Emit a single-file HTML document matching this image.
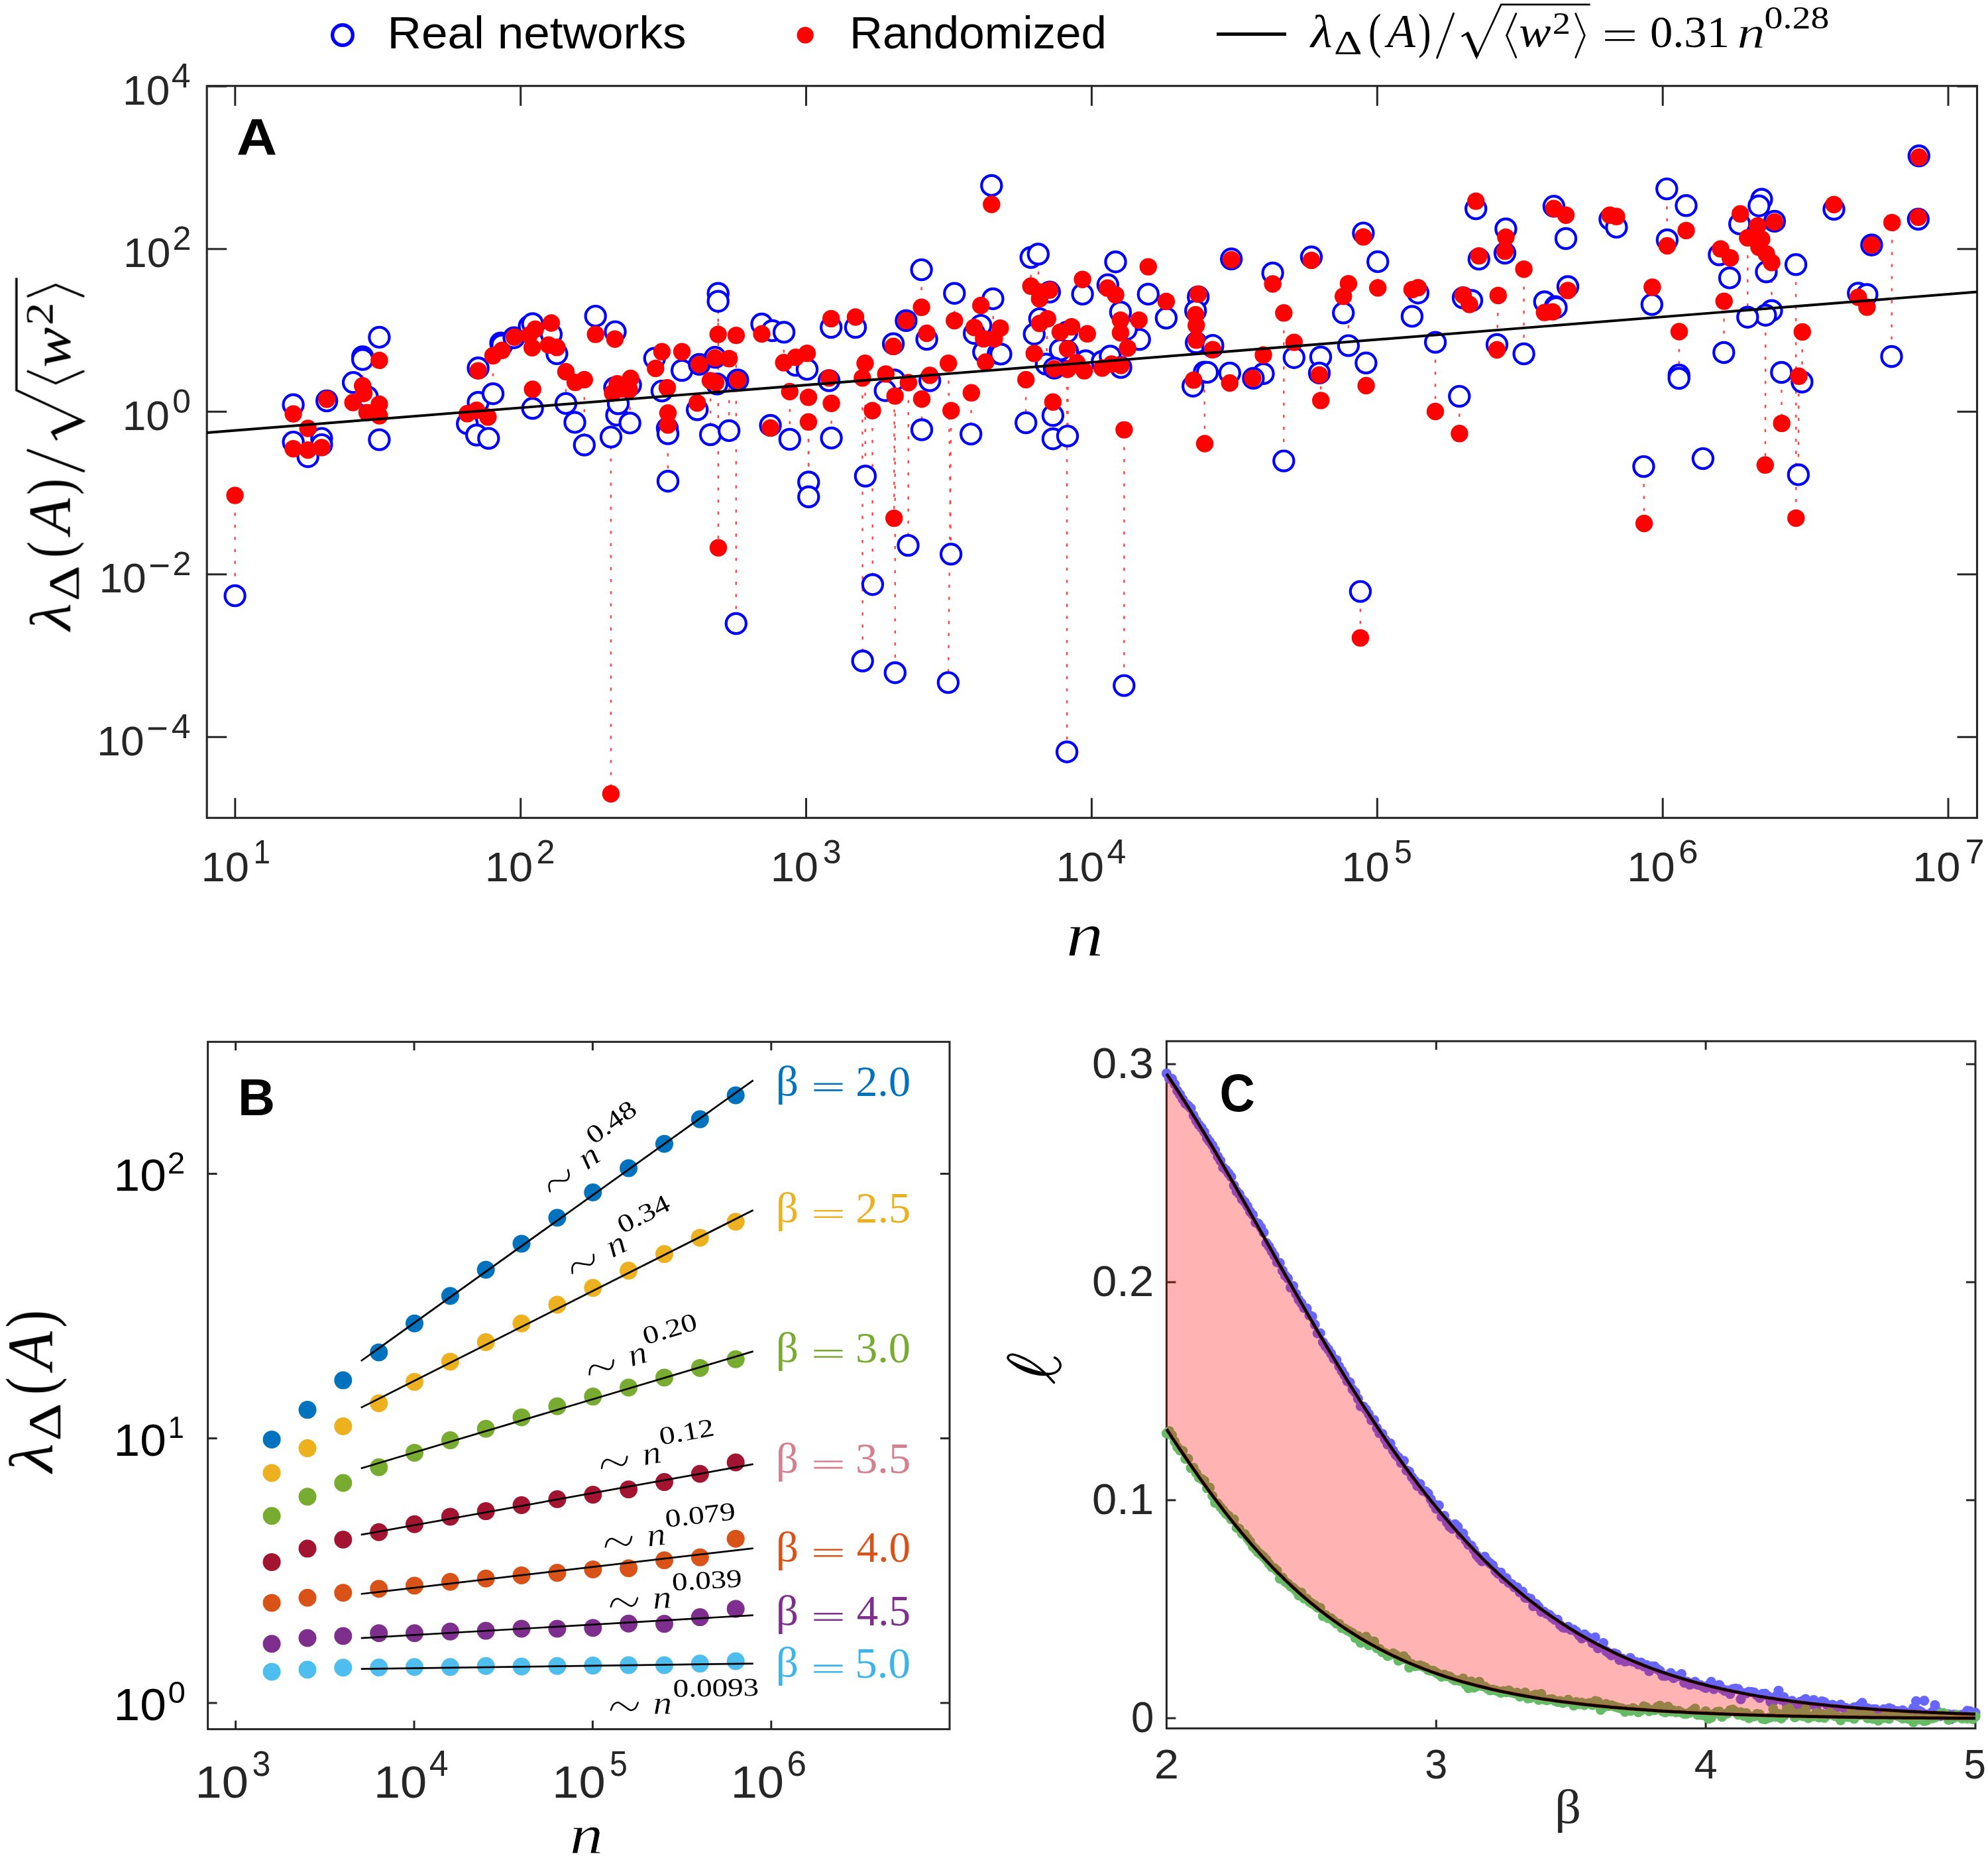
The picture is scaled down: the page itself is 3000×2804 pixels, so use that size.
<!DOCTYPE html>
<html><head><meta charset="utf-8"><title>figure</title>
<style>html,body{margin:0;padding:0;background:#fff}svg{display:block}text{white-space:pre}</style></head>
<body><svg width="3000" height="2804" viewBox="0 0 3000 2804">
<rect width="3000" height="2804" fill="#fff"/>
<g opacity="0.99999">
<g id="panelA">
<g stroke="#ff0000" stroke-width="2.5" stroke-dasharray="4.6 13.6" fill="none" opacity="0.72">
<path d="M354.6 755.6L354.6 899.0"/>
<path d="M743.9 545.0L744.0 594.5"/>
<path d="M547.2 548.0L547.2 582.0"/>
<path d="M572.4 517.0L572.4 544.0"/>
<path d="M572.4 635.0L572.4 664.0"/>
<path d="M464.7 654.5L464.7 689.2"/>
<path d="M854.0 569.0L854.0 608.9"/>
<path d="M881.8 581.0L881.8 671.6"/>
<path d="M867.8 585.1L867.5 637.4"/>
<path d="M921.9 601.0L921.9 1198.0"/>
<path d="M950.6 596.0L950.6 638.4"/>
<path d="M998.9 538.8L998.9 590.1"/>
<path d="M1007.5 593.1L1008.0 726.2"/>
<path d="M1072.2 583.0L1072.2 655.0"/>
<path d="M803.7 595.5L803.7 616.3"/>
<path d="M1083.7 450.7L1083.7 504.6"/>
<path d="M1083.7 462.7L1084.0 826.7"/>
<path d="M1110.9 514.1L1110.8 941.0"/>
<path d="M1100.2 549.3L1100.2 649.9"/>
<path d="M1183.0 509.4L1182.8 547.3"/>
<path d="M1191.8 599.0L1191.8 663.0"/>
<path d="M1220.0 607.6L1220.3 727.5"/>
<path d="M1220.0 644.8L1220.3 749.8"/>
<path d="M1254.6 616.7L1254.6 661.0"/>
<path d="M1301.4 578.4L1301.7 997.5"/>
<path d="M1305.5 556.3L1305.9 718.5"/>
<path d="M1316.5 627.7L1316.9 882.2"/>
<path d="M1349.7 581.5L1349.2 782.1"/>
<path d="M1350.7 605.6L1350.8 1015.2"/>
<path d="M1370.9 585.5L1370.5 823.1"/>
<path d="M1390.6 415.1L1390.6 463.8"/>
<path d="M1391.0 610.2L1391.0 648.5"/>
<path d="M1431.2 556.3L1435.1 836.3"/>
<path d="M1435.3 627.7L1430.9 1030.1"/>
<path d="M1440.3 450.7L1440.3 483.9"/>
<path d="M1465.8 600.8L1465.2 655.1"/>
<path d="M1548.2 581.0L1548.2 638.0"/>
<path d="M1588.9 614.8L1588.9 662.2"/>
<path d="M1611.5 565.5L1611.5 658.1"/>
<path d="M1610.1 565.5L1610.1 1134.7"/>
<path d="M1555.7 396.5L1555.7 431.8"/>
<path d="M1566.8 391.5L1567.5 440.8"/>
<path d="M1498.4 458.9L1499.5 511.3"/>
<path d="M1683.5 403.2L1683.5 444.9"/>
<path d="M1732.8 410.6L1732.8 443.9"/>
<path d="M1696.4 656.6L1696.3 1034.6"/>
<path d="M1817.5 569.6L1818.0 669.5"/>
<path d="M1640.8 511.8L1639.0 544.5"/>
<path d="M1580.5 489.1L1579.0 549.5"/>
<path d="M1937.3 480.3L1937.3 695.6"/>
<path d="M2166.1 524.6L2166.0 621.0"/>
<path d="M2079.2 402.9L2079.2 434.5"/>
<path d="M2034.9 436.1L2034.9 521.6"/>
<path d="M2061.4 555.8L2061.6 582.0"/>
<path d="M1993.0 546.7L1993.2 604.4"/>
<path d="M2202.3 606.1L2202.4 654.3"/>
<path d="M2052.9 900.6L2052.9 962.7"/>
<path d="M2260.8 453.9L2259.0 519.9"/>
<path d="M2299.6 414.2L2299.6 534.0"/>
<path d="M2363.0 332.7L2363.0 360.0"/>
<path d="M2515.3 293.1L2515.9 371.0"/>
<path d="M2544.5 318.3L2544.5 347.9"/>
<path d="M2534.0 508.5L2533.7 568.0"/>
<path d="M2601.7 462.6L2601.3 532.0"/>
<path d="M2637.3 367.0L2637.3 478.7"/>
<path d="M2673.5 404.2L2673.5 468.7"/>
<path d="M2664.4 483.7L2663.8 701.8"/>
<path d="M2710.1 407.3L2710.3 781.9"/>
<path d="M2719.8 508.9L2719.4 576.5"/>
<path d="M2714.5 575.8L2713.9 716.4"/>
<path d="M2855.2 343.9L2854.5 538.0"/>
<path d="M2688.3 570.0L2688.7 638.9"/>
<path d="M2480.4 712.1L2481.1 790.0"/>
<path d="M1480.2 469.0L1480.2 491.1"/>
<path d="M1633.6 429.7L1633.6 443.9"/>
<path d="M1759.9 462.9L1759.9 480.1"/>
<path d="M1920.6 420.0L1920.6 428.5"/>
<path d="M1149.5 497.0L1149.5 504.0"/>
<path d="M898.7 485.1L898.7 504.6"/>
<path d="M1029.1 538.8L1029.1 559.0"/>
<path d="M533.0 585.3L532.6 607.5"/>
</g>
<rect x="312.2" y="129.7" width="2671.3" height="1104.6" fill="none" stroke="#262626" stroke-width="3.1"/>
<line x1="354.8" y1="1234.3" x2="354.8" y2="1204.3" stroke="#262626" stroke-width="3.0"/>
<line x1="354.8" y1="129.7" x2="354.8" y2="159.7" stroke="#262626" stroke-width="3.0"/>
<text transform="matrix(0.6509 0 0 0.6215 303.54 1329.99)" font-family='"Liberation Sans", sans-serif' font-size="100" fill="#262626">10</text>
<text transform="matrix(0.4587 0 0 0.5087 382.55 1303.30)" font-family='"Liberation Sans", sans-serif' font-size="100" fill="#262626">1</text>
<line x1="785.7" y1="1234.3" x2="785.7" y2="1204.3" stroke="#262626" stroke-width="3.0"/>
<line x1="785.7" y1="129.7" x2="785.7" y2="159.7" stroke="#262626" stroke-width="3.0"/>
<text transform="matrix(0.6509 0 0 0.6215 731.81 1329.99)" font-family='"Liberation Sans", sans-serif' font-size="100" fill="#262626">10</text>
<text transform="matrix(0.5035 0 0 0.5013 809.59 1303.30)" font-family='"Liberation Sans", sans-serif' font-size="100" fill="#262626">2</text>
<line x1="1216.5" y1="1234.3" x2="1216.5" y2="1204.3" stroke="#262626" stroke-width="3.0"/>
<line x1="1216.5" y1="129.7" x2="1216.5" y2="159.7" stroke="#262626" stroke-width="3.0"/>
<text transform="matrix(0.6509 0 0 0.6215 1162.68 1329.99)" font-family='"Liberation Sans", sans-serif' font-size="100" fill="#262626">10</text>
<text transform="matrix(0.5005 0 0 0.5000 1241.63 1303.21)" font-family='"Liberation Sans", sans-serif' font-size="100" fill="#262626">3</text>
<line x1="1647.4" y1="1234.3" x2="1647.4" y2="1204.3" stroke="#262626" stroke-width="3.0"/>
<line x1="1647.4" y1="129.7" x2="1647.4" y2="159.7" stroke="#262626" stroke-width="3.0"/>
<text transform="matrix(0.6509 0 0 0.6215 1593.55 1329.99)" font-family='"Liberation Sans", sans-serif' font-size="100" fill="#262626">10</text>
<text transform="matrix(0.5180 0 0 0.5087 1670.49 1303.30)" font-family='"Liberation Sans", sans-serif' font-size="100" fill="#262626">4</text>
<line x1="2078.3" y1="1234.3" x2="2078.3" y2="1204.3" stroke="#262626" stroke-width="3.0"/>
<line x1="2078.3" y1="129.7" x2="2078.3" y2="159.7" stroke="#262626" stroke-width="3.0"/>
<text transform="matrix(0.6509 0 0 0.6215 2024.42 1329.99)" font-family='"Liberation Sans", sans-serif' font-size="100" fill="#262626">10</text>
<text transform="matrix(0.4838 0 0 0.5016 2103.89 1302.81)" font-family='"Liberation Sans", sans-serif' font-size="100" fill="#262626">5</text>
<line x1="2509.2" y1="1234.3" x2="2509.2" y2="1204.3" stroke="#262626" stroke-width="3.0"/>
<line x1="2509.2" y1="129.7" x2="2509.2" y2="159.7" stroke="#262626" stroke-width="3.0"/>
<text transform="matrix(0.6509 0 0 0.6215 2455.29 1329.99)" font-family='"Liberation Sans", sans-serif' font-size="100" fill="#262626">10</text>
<text transform="matrix(0.5314 0 0 0.5000 2532.90 1303.21)" font-family='"Liberation Sans", sans-serif' font-size="100" fill="#262626">6</text>
<line x1="2940.0" y1="1234.3" x2="2940.0" y2="1204.3" stroke="#262626" stroke-width="3.0"/>
<line x1="2940.0" y1="129.7" x2="2940.0" y2="159.7" stroke="#262626" stroke-width="3.0"/>
<text transform="matrix(0.6509 0 0 0.6215 2886.16 1329.99)" font-family='"Liberation Sans", sans-serif' font-size="100" fill="#262626">10</text>
<text transform="matrix(0.5220 0 0 0.5087 2965.44 1303.30)" font-family='"Liberation Sans", sans-serif' font-size="100" fill="#262626">7</text>
<line x1="312.2" y1="130.3" x2="342.2" y2="130.3" stroke="#262626" stroke-width="3.0"/>
<line x1="2983.5" y1="130.3" x2="2953.5" y2="130.3" stroke="#262626" stroke-width="3.0"/>
<text transform="matrix(0.6409 0 0 0.6215 185.05 157.69)" font-family='"Liberation Sans", sans-serif' font-size="100" fill="#262626">10</text>
<text transform="matrix(0.5180 0 0 0.5087 258.71 131.90)" font-family='"Liberation Sans", sans-serif' font-size="100" fill="#262626">4</text>
<line x1="312.2" y1="375.8" x2="342.2" y2="375.8" stroke="#262626" stroke-width="3.0"/>
<line x1="2983.5" y1="375.8" x2="2953.5" y2="375.8" stroke="#262626" stroke-width="3.0"/>
<text transform="matrix(0.6409 0 0 0.6215 186.03 403.19)" font-family='"Liberation Sans", sans-serif' font-size="100" fill="#262626">10</text>
<text transform="matrix(0.5035 0 0 0.5013 260.53 377.40)" font-family='"Liberation Sans", sans-serif' font-size="100" fill="#262626">2</text>
<line x1="312.2" y1="621.3" x2="342.2" y2="621.3" stroke="#262626" stroke-width="3.0"/>
<line x1="2983.5" y1="621.3" x2="2953.5" y2="621.3" stroke="#262626" stroke-width="3.0"/>
<text transform="matrix(0.6409 0 0 0.6215 184.69 648.69)" font-family='"Liberation Sans", sans-serif' font-size="100" fill="#262626">10</text>
<text transform="matrix(0.4964 0 0 0.5000 260.33 622.81)" font-family='"Liberation Sans", sans-serif' font-size="100" fill="#262626">0</text>
<line x1="312.2" y1="866.8" x2="342.2" y2="866.8" stroke="#262626" stroke-width="3.0"/>
<line x1="2983.5" y1="866.8" x2="2953.5" y2="866.8" stroke="#262626" stroke-width="3.0"/>
<text transform="matrix(0.6409 0 0 0.6215 149.43 894.19)" font-family='"Liberation Sans", sans-serif' font-size="100" fill="#262626">10</text>
<rect x="227.0" y="851.9" width="27.3" height="4.0" fill="#262626"/>
<text transform="matrix(0.5035 0 0 0.5013 260.53 868.40)" font-family='"Liberation Sans", sans-serif' font-size="100" fill="#262626">2</text>
<line x1="312.2" y1="1112.3" x2="342.2" y2="1112.3" stroke="#262626" stroke-width="3.0"/>
<line x1="2983.5" y1="1112.3" x2="2953.5" y2="1112.3" stroke="#262626" stroke-width="3.0"/>
<text transform="matrix(0.6409 0 0 0.6215 146.27 1139.69)" font-family='"Liberation Sans", sans-serif' font-size="100" fill="#262626">10</text>
<rect x="223.8" y="1097.5" width="27.3" height="4.0" fill="#262626"/>
<text transform="matrix(0.5180 0 0 0.5087 258.71 1113.90)" font-family='"Liberation Sans", sans-serif' font-size="100" fill="#262626">4</text>
<g fill="#ffffff" stroke="#0000ff" stroke-width="4.2">
<circle cx="354.6" cy="899.0" r="15.1"/>
<circle cx="442.6" cy="610.8" r="15.1"/>
<circle cx="442.6" cy="667.1" r="15.1"/>
<circle cx="464.7" cy="689.2" r="15.1"/>
<circle cx="485.4" cy="661.6" r="15.1"/>
<circle cx="485.4" cy="671.1" r="15.1"/>
<circle cx="493.2" cy="605.0" r="15.1"/>
<circle cx="533.1" cy="577.3" r="15.1"/>
<circle cx="547.2" cy="538.5" r="15.1"/>
<circle cx="547.2" cy="542.5" r="15.1"/>
<circle cx="554.5" cy="599.0" r="15.1"/>
<circle cx="572.4" cy="508.9" r="15.1"/>
<circle cx="572.4" cy="663.6" r="15.1"/>
<circle cx="721.6" cy="555.3" r="15.1"/>
<circle cx="705.2" cy="639.4" r="15.1"/>
<circle cx="721.6" cy="607.2" r="15.1"/>
<circle cx="719.2" cy="656.5" r="15.1"/>
<circle cx="737.3" cy="661.6" r="15.1"/>
<circle cx="744.0" cy="594.2" r="15.1"/>
<circle cx="755.5" cy="517.7" r="15.1"/>
<circle cx="757.5" cy="520.7" r="15.1"/>
<circle cx="775.6" cy="509.7" r="15.1"/>
<circle cx="798.7" cy="492.5" r="15.1"/>
<circle cx="803.7" cy="488.5" r="15.1"/>
<circle cx="831.9" cy="504.6" r="15.1"/>
<circle cx="840.4" cy="533.8" r="15.1"/>
<circle cx="803.7" cy="616.3" r="15.1"/>
<circle cx="854.0" cy="608.9" r="15.1"/>
<circle cx="867.5" cy="637.4" r="15.1"/>
<circle cx="881.8" cy="671.6" r="15.1"/>
<circle cx="898.7" cy="477.1" r="15.1"/>
<circle cx="928.5" cy="500.6" r="15.1"/>
<circle cx="922.0" cy="659.6" r="15.1"/>
<circle cx="930.5" cy="626.4" r="15.1"/>
<circle cx="950.6" cy="638.4" r="15.1"/>
<circle cx="927.5" cy="585.1" r="15.1"/>
<circle cx="951.6" cy="581.1" r="15.1"/>
<circle cx="933.0" cy="609.3" r="15.1"/>
<circle cx="987.8" cy="540.8" r="15.1"/>
<circle cx="998.9" cy="590.1" r="15.1"/>
<circle cx="1007.0" cy="646.5" r="15.1"/>
<circle cx="1008.0" cy="654.5" r="15.1"/>
<circle cx="1008.0" cy="726.2" r="15.1"/>
<circle cx="1029.1" cy="559.0" r="15.1"/>
<circle cx="1052.2" cy="618.3" r="15.1"/>
<circle cx="1055.3" cy="549.9" r="15.1"/>
<circle cx="1083.7" cy="442.7" r="15.1"/>
<circle cx="1083.7" cy="454.7" r="15.1"/>
<circle cx="1149.5" cy="489.0" r="15.1"/>
<circle cx="1165.6" cy="499.0" r="15.1"/>
<circle cx="1183.1" cy="501.4" r="15.1"/>
<circle cx="1079.1" cy="539.3" r="15.1"/>
<circle cx="1082.0" cy="579.5" r="15.1"/>
<circle cx="1113.3" cy="573.5" r="15.1"/>
<circle cx="1200.8" cy="551.3" r="15.1"/>
<circle cx="1218.0" cy="557.4" r="15.1"/>
<circle cx="1254.2" cy="494.0" r="15.1"/>
<circle cx="1291.0" cy="494.0" r="15.1"/>
<circle cx="1251.1" cy="574.5" r="15.1"/>
<circle cx="1348.1" cy="518.7" r="15.1"/>
<circle cx="1367.4" cy="483.9" r="15.1"/>
<circle cx="1390.6" cy="407.1" r="15.1"/>
<circle cx="1398.6" cy="512.1" r="15.1"/>
<circle cx="1440.3" cy="442.7" r="15.1"/>
<circle cx="1349.7" cy="573.5" r="15.1"/>
<circle cx="1335.7" cy="589.6" r="15.1"/>
<circle cx="1403.1" cy="574.5" r="15.1"/>
<circle cx="1072.1" cy="656.0" r="15.1"/>
<circle cx="1100.2" cy="649.9" r="15.1"/>
<circle cx="1162.6" cy="641.9" r="15.1"/>
<circle cx="1191.8" cy="663.0" r="15.1"/>
<circle cx="1254.6" cy="661.0" r="15.1"/>
<circle cx="1391.0" cy="648.5" r="15.1"/>
<circle cx="1498.4" cy="450.9" r="15.1"/>
<circle cx="1480.2" cy="491.1" r="15.1"/>
<circle cx="1470.2" cy="503.2" r="15.1"/>
<circle cx="1484.3" cy="531.4" r="15.1"/>
<circle cx="1506.4" cy="533.4" r="15.1"/>
<circle cx="1510.4" cy="534.4" r="15.1"/>
<circle cx="1555.7" cy="388.5" r="15.1"/>
<circle cx="1566.8" cy="383.5" r="15.1"/>
<circle cx="1583.9" cy="440.8" r="15.1"/>
<circle cx="1568.8" cy="481.1" r="15.1"/>
<circle cx="1560.7" cy="504.2" r="15.1"/>
<circle cx="1633.6" cy="443.9" r="15.1"/>
<circle cx="1683.5" cy="395.2" r="15.1"/>
<circle cx="1671.8" cy="429.8" r="15.1"/>
<circle cx="1690.9" cy="471.0" r="15.1"/>
<circle cx="1732.8" cy="443.9" r="15.1"/>
<circle cx="1759.9" cy="480.1" r="15.1"/>
<circle cx="1808.2" cy="447.9" r="15.1"/>
<circle cx="1804.2" cy="469.0" r="15.1"/>
<circle cx="1805.2" cy="517.3" r="15.1"/>
<circle cx="1817.3" cy="561.6" r="15.1"/>
<circle cx="1800.2" cy="582.7" r="15.1"/>
<circle cx="1719.7" cy="512.3" r="15.1"/>
<circle cx="1699.6" cy="497.2" r="15.1"/>
<circle cx="1610.0" cy="501.2" r="15.1"/>
<circle cx="1611.0" cy="530.4" r="15.1"/>
<circle cx="1600.0" cy="528.0" r="15.1"/>
<circle cx="1578.8" cy="549.5" r="15.1"/>
<circle cx="1590.9" cy="555.5" r="15.1"/>
<circle cx="1638.2" cy="544.5" r="15.1"/>
<circle cx="1663.3" cy="545.5" r="15.1"/>
<circle cx="1675.4" cy="537.4" r="15.1"/>
<circle cx="1691.5" cy="554.5" r="15.1"/>
<circle cx="1465.2" cy="655.1" r="15.1"/>
<circle cx="1548.2" cy="638.0" r="15.1"/>
<circle cx="1588.9" cy="627.0" r="15.1"/>
<circle cx="1588.9" cy="662.2" r="15.1"/>
<circle cx="1611.0" cy="658.1" r="15.1"/>
<circle cx="1496.3" cy="279.9" r="15.1"/>
<circle cx="1858.2" cy="390.8" r="15.1"/>
<circle cx="1920.6" cy="412.0" r="15.1"/>
<circle cx="1979.0" cy="387.8" r="15.1"/>
<circle cx="2057.4" cy="351.6" r="15.1"/>
<circle cx="2079.2" cy="394.9" r="15.1"/>
<circle cx="2139.9" cy="442.2" r="15.1"/>
<circle cx="2027.2" cy="472.3" r="15.1"/>
<circle cx="2130.9" cy="477.4" r="15.1"/>
<circle cx="1830.0" cy="523.6" r="15.1"/>
<circle cx="1830.3" cy="521.3" r="15.1"/>
<circle cx="1952.8" cy="539.7" r="15.1"/>
<circle cx="1993.0" cy="538.7" r="15.1"/>
<circle cx="1991.0" cy="562.9" r="15.1"/>
<circle cx="2034.9" cy="521.6" r="15.1"/>
<circle cx="2061.4" cy="547.8" r="15.1"/>
<circle cx="2166.1" cy="516.6" r="15.1"/>
<circle cx="1822.0" cy="561.9" r="15.1"/>
<circle cx="1855.8" cy="562.9" r="15.1"/>
<circle cx="1906.5" cy="563.9" r="15.1"/>
<circle cx="1891.4" cy="570.9" r="15.1"/>
<circle cx="2202.3" cy="598.1" r="15.1"/>
<circle cx="2208.0" cy="449.5" r="15.1"/>
<circle cx="2221.0" cy="453.5" r="15.1"/>
<circle cx="2227.2" cy="315.1" r="15.1"/>
<circle cx="2272.4" cy="345.5" r="15.1"/>
<circle cx="2231.8" cy="391.1" r="15.1"/>
<circle cx="2271.0" cy="382.1" r="15.1"/>
<circle cx="2344.9" cy="311.3" r="15.1"/>
<circle cx="2363.0" cy="360.0" r="15.1"/>
<circle cx="2429.4" cy="330.8" r="15.1"/>
<circle cx="2439.4" cy="342.9" r="15.1"/>
<circle cx="2515.3" cy="285.1" r="15.1"/>
<circle cx="2544.5" cy="310.3" r="15.1"/>
<circle cx="2515.9" cy="362.0" r="15.1"/>
<circle cx="2366.0" cy="432.4" r="15.1"/>
<circle cx="2330.8" cy="455.5" r="15.1"/>
<circle cx="2346.9" cy="462.6" r="15.1"/>
<circle cx="2492.8" cy="459.6" r="15.1"/>
<circle cx="2259.0" cy="519.9" r="15.1"/>
<circle cx="2299.6" cy="534.0" r="15.1"/>
<circle cx="2533.7" cy="566.0" r="15.1"/>
<circle cx="2533.7" cy="571.0" r="15.1"/>
<circle cx="2594.4" cy="384.5" r="15.1"/>
<circle cx="2658.4" cy="300.7" r="15.1"/>
<circle cx="2654.4" cy="310.7" r="15.1"/>
<circle cx="2625.2" cy="337.9" r="15.1"/>
<circle cx="2677.9" cy="333.9" r="15.1"/>
<circle cx="2767.5" cy="315.8" r="15.1"/>
<circle cx="2895.8" cy="235.3" r="15.1"/>
<circle cx="2894.8" cy="330.8" r="15.1"/>
<circle cx="2824.4" cy="369.7" r="15.1"/>
<circle cx="2710.1" cy="399.3" r="15.1"/>
<circle cx="2665.5" cy="410.3" r="15.1"/>
<circle cx="2610.1" cy="419.4" r="15.1"/>
<circle cx="2804.3" cy="442.5" r="15.1"/>
<circle cx="2817.4" cy="444.5" r="15.1"/>
<circle cx="2673.5" cy="468.7" r="15.1"/>
<circle cx="2664.4" cy="475.7" r="15.1"/>
<circle cx="2637.3" cy="478.7" r="15.1"/>
<circle cx="2601.3" cy="532.0" r="15.1"/>
<circle cx="2854.5" cy="538.0" r="15.1"/>
<circle cx="2688.3" cy="562.0" r="15.1"/>
<circle cx="2719.4" cy="576.5" r="15.1"/>
<circle cx="1110.8" cy="941.0" r="15.1"/>
<circle cx="1220.3" cy="727.5" r="15.1"/>
<circle cx="1220.3" cy="749.8" r="15.1"/>
<circle cx="1305.9" cy="718.5" r="15.1"/>
<circle cx="1316.9" cy="882.2" r="15.1"/>
<circle cx="1301.7" cy="997.5" r="15.1"/>
<circle cx="1350.8" cy="1015.2" r="15.1"/>
<circle cx="1370.5" cy="823.1" r="15.1"/>
<circle cx="1435.1" cy="836.3" r="15.1"/>
<circle cx="1430.9" cy="1030.1" r="15.1"/>
<circle cx="1610.1" cy="1134.7" r="15.1"/>
<circle cx="1696.3" cy="1034.6" r="15.1"/>
<circle cx="1937.3" cy="695.6" r="15.1"/>
<circle cx="2052.9" cy="892.6" r="15.1"/>
<circle cx="2480.4" cy="704.1" r="15.1"/>
<circle cx="2569.9" cy="692.1" r="15.1"/>
<circle cx="2713.9" cy="716.4" r="15.1"/>
<circle cx="2348.5" cy="464.2" r="15.1"/>
</g>
<g fill="#ff0000">
<circle cx="354.6" cy="747.6" r="13.2"/>
<circle cx="442.6" cy="624.6" r="13.2"/>
<circle cx="442.6" cy="677.2" r="13.2"/>
<circle cx="464.7" cy="646.5" r="13.2"/>
<circle cx="464.7" cy="679.2" r="13.2"/>
<circle cx="485.4" cy="675.4" r="13.2"/>
<circle cx="493.2" cy="602.5" r="13.2"/>
<circle cx="532.6" cy="607.5" r="13.2"/>
<circle cx="547.2" cy="582.3" r="13.2"/>
<circle cx="549.0" cy="593.7" r="13.2"/>
<circle cx="554.0" cy="622.6" r="13.2"/>
<circle cx="572.4" cy="543.9" r="13.2"/>
<circle cx="572.4" cy="610.0" r="13.2"/>
<circle cx="572.4" cy="627.6" r="13.2"/>
<circle cx="721.6" cy="559.6" r="13.2"/>
<circle cx="705.2" cy="624.3" r="13.2"/>
<circle cx="719.2" cy="619.3" r="13.2"/>
<circle cx="736.3" cy="629.4" r="13.2"/>
<circle cx="744.0" cy="536.8" r="13.2"/>
<circle cx="757.5" cy="528.8" r="13.2"/>
<circle cx="776.2" cy="508.7" r="13.2"/>
<circle cx="798.7" cy="505.6" r="13.2"/>
<circle cx="807.8" cy="496.6" r="13.2"/>
<circle cx="803.1" cy="524.7" r="13.2"/>
<circle cx="831.9" cy="487.5" r="13.2"/>
<circle cx="827.9" cy="520.7" r="13.2"/>
<circle cx="840.4" cy="524.3" r="13.2"/>
<circle cx="803.7" cy="587.5" r="13.2"/>
<circle cx="854.0" cy="561.0" r="13.2"/>
<circle cx="868.1" cy="577.1" r="13.2"/>
<circle cx="881.8" cy="573.0" r="13.2"/>
<circle cx="898.7" cy="504.6" r="13.2"/>
<circle cx="927.9" cy="511.7" r="13.2"/>
<circle cx="931.5" cy="579.1" r="13.2"/>
<circle cx="924.5" cy="593.2" r="13.2"/>
<circle cx="951.6" cy="571.0" r="13.2"/>
<circle cx="949.6" cy="588.1" r="13.2"/>
<circle cx="939.6" cy="587.1" r="13.2"/>
<circle cx="998.9" cy="530.8" r="13.2"/>
<circle cx="989.3" cy="555.9" r="13.2"/>
<circle cx="1007.0" cy="585.1" r="13.2"/>
<circle cx="1008.0" cy="623.3" r="13.2"/>
<circle cx="1008.0" cy="641.4" r="13.2"/>
<circle cx="1029.1" cy="530.8" r="13.2"/>
<circle cx="1052.2" cy="608.2" r="13.2"/>
<circle cx="1055.3" cy="549.9" r="13.2"/>
<circle cx="1083.7" cy="504.6" r="13.2"/>
<circle cx="1110.9" cy="506.1" r="13.2"/>
<circle cx="1079.1" cy="540.3" r="13.2"/>
<circle cx="1100.2" cy="541.3" r="13.2"/>
<circle cx="1149.5" cy="504.0" r="13.2"/>
<circle cx="1072.0" cy="574.5" r="13.2"/>
<circle cx="1080.0" cy="577.5" r="13.2"/>
<circle cx="1113.3" cy="573.5" r="13.2"/>
<circle cx="1182.7" cy="547.3" r="13.2"/>
<circle cx="1200.8" cy="539.3" r="13.2"/>
<circle cx="1218.0" cy="533.2" r="13.2"/>
<circle cx="1191.8" cy="591.0" r="13.2"/>
<circle cx="1220.0" cy="599.6" r="13.2"/>
<circle cx="1220.0" cy="636.8" r="13.2"/>
<circle cx="1162.6" cy="645.9" r="13.2"/>
<circle cx="1254.2" cy="480.9" r="13.2"/>
<circle cx="1291.0" cy="478.5" r="13.2"/>
<circle cx="1251.1" cy="570.4" r="13.2"/>
<circle cx="1254.6" cy="608.7" r="13.2"/>
<circle cx="1305.5" cy="548.3" r="13.2"/>
<circle cx="1301.4" cy="570.4" r="13.2"/>
<circle cx="1316.5" cy="619.7" r="13.2"/>
<circle cx="1336.7" cy="564.4" r="13.2"/>
<circle cx="1348.1" cy="522.8" r="13.2"/>
<circle cx="1350.7" cy="597.6" r="13.2"/>
<circle cx="1367.4" cy="483.9" r="13.2"/>
<circle cx="1370.9" cy="577.5" r="13.2"/>
<circle cx="1390.6" cy="463.8" r="13.2"/>
<circle cx="1398.6" cy="503.0" r="13.2"/>
<circle cx="1391.0" cy="602.2" r="13.2"/>
<circle cx="1403.1" cy="566.4" r="13.2"/>
<circle cx="1431.2" cy="548.3" r="13.2"/>
<circle cx="1440.3" cy="483.9" r="13.2"/>
<circle cx="1435.3" cy="619.7" r="13.2"/>
<circle cx="1496.3" cy="308.5" r="13.2"/>
<circle cx="1480.2" cy="461.0" r="13.2"/>
<circle cx="1470.2" cy="494.2" r="13.2"/>
<circle cx="1484.3" cy="511.3" r="13.2"/>
<circle cx="1500.4" cy="511.3" r="13.2"/>
<circle cx="1509.4" cy="495.2" r="13.2"/>
<circle cx="1487.3" cy="546.5" r="13.2"/>
<circle cx="1465.8" cy="592.8" r="13.2"/>
<circle cx="1555.7" cy="431.8" r="13.2"/>
<circle cx="1568.8" cy="440.8" r="13.2"/>
<circle cx="1583.9" cy="437.8" r="13.2"/>
<circle cx="1568.8" cy="450.9" r="13.2"/>
<circle cx="1568.8" cy="488.1" r="13.2"/>
<circle cx="1580.8" cy="481.1" r="13.2"/>
<circle cx="1560.7" cy="533.4" r="13.2"/>
<circle cx="1548.2" cy="573.0" r="13.2"/>
<circle cx="1588.9" cy="606.8" r="13.2"/>
<circle cx="1600.0" cy="501.2" r="13.2"/>
<circle cx="1617.1" cy="493.2" r="13.2"/>
<circle cx="1611.0" cy="526.4" r="13.2"/>
<circle cx="1590.9" cy="556.5" r="13.2"/>
<circle cx="1611.0" cy="557.5" r="13.2"/>
<circle cx="1625.1" cy="547.5" r="13.2"/>
<circle cx="1636.2" cy="559.6" r="13.2"/>
<circle cx="1633.6" cy="421.7" r="13.2"/>
<circle cx="1640.8" cy="503.8" r="13.2"/>
<circle cx="1671.4" cy="434.8" r="13.2"/>
<circle cx="1683.5" cy="444.9" r="13.2"/>
<circle cx="1690.9" cy="483.1" r="13.2"/>
<circle cx="1690.9" cy="502.2" r="13.2"/>
<circle cx="1701.6" cy="525.4" r="13.2"/>
<circle cx="1718.7" cy="483.1" r="13.2"/>
<circle cx="1663.3" cy="555.5" r="13.2"/>
<circle cx="1677.4" cy="549.5" r="13.2"/>
<circle cx="1691.5" cy="551.5" r="13.2"/>
<circle cx="1732.8" cy="402.6" r="13.2"/>
<circle cx="1759.9" cy="454.9" r="13.2"/>
<circle cx="1808.2" cy="443.9" r="13.2"/>
<circle cx="1804.2" cy="475.0" r="13.2"/>
<circle cx="1805.2" cy="491.1" r="13.2"/>
<circle cx="1805.2" cy="513.3" r="13.2"/>
<circle cx="1801.2" cy="573.6" r="13.2"/>
<circle cx="1696.4" cy="648.6" r="13.2"/>
<circle cx="1818.0" cy="669.5" r="13.2"/>
<circle cx="1858.2" cy="391.9" r="13.2"/>
<circle cx="1920.6" cy="428.5" r="13.2"/>
<circle cx="1979.0" cy="392.9" r="13.2"/>
<circle cx="2057.4" cy="357.6" r="13.2"/>
<circle cx="2079.2" cy="434.5" r="13.2"/>
<circle cx="2034.9" cy="428.1" r="13.2"/>
<circle cx="2027.2" cy="447.2" r="13.2"/>
<circle cx="2130.9" cy="437.1" r="13.2"/>
<circle cx="2139.9" cy="434.1" r="13.2"/>
<circle cx="1937.3" cy="472.3" r="13.2"/>
<circle cx="1952.8" cy="516.6" r="13.2"/>
<circle cx="1906.5" cy="535.7" r="13.2"/>
<circle cx="1830.0" cy="527.7" r="13.2"/>
<circle cx="1855.8" cy="578.0" r="13.2"/>
<circle cx="1890.4" cy="570.9" r="13.2"/>
<circle cx="1991.0" cy="565.9" r="13.2"/>
<circle cx="1993.2" cy="604.4" r="13.2"/>
<circle cx="2061.6" cy="582.0" r="13.2"/>
<circle cx="2166.0" cy="621.0" r="13.2"/>
<circle cx="2208.0" cy="445.5" r="13.2"/>
<circle cx="2217.5" cy="459.5" r="13.2"/>
<circle cx="2227.2" cy="303.6" r="13.2"/>
<circle cx="2272.4" cy="357.9" r="13.2"/>
<circle cx="2271.0" cy="379.1" r="13.2"/>
<circle cx="2231.8" cy="386.1" r="13.2"/>
<circle cx="2344.9" cy="314.7" r="13.2"/>
<circle cx="2363.0" cy="324.7" r="13.2"/>
<circle cx="2429.4" cy="324.7" r="13.2"/>
<circle cx="2439.4" cy="326.8" r="13.2"/>
<circle cx="2515.9" cy="371.0" r="13.2"/>
<circle cx="2544.5" cy="347.9" r="13.2"/>
<circle cx="2299.6" cy="406.2" r="13.2"/>
<circle cx="2366.0" cy="438.4" r="13.2"/>
<circle cx="2260.8" cy="445.9" r="13.2"/>
<circle cx="2330.8" cy="471.6" r="13.2"/>
<circle cx="2342.9" cy="470.6" r="13.2"/>
<circle cx="2493.4" cy="433.4" r="13.2"/>
<circle cx="2259.0" cy="528.0" r="13.2"/>
<circle cx="2534.0" cy="500.5" r="13.2"/>
<circle cx="2596.5" cy="375.6" r="13.2"/>
<circle cx="2626.2" cy="322.8" r="13.2"/>
<circle cx="2652.4" cy="340.9" r="13.2"/>
<circle cx="2677.9" cy="334.9" r="13.2"/>
<circle cx="2637.3" cy="359.0" r="13.2"/>
<circle cx="2658.4" cy="361.0" r="13.2"/>
<circle cx="2654.4" cy="373.1" r="13.2"/>
<circle cx="2665.5" cy="383.2" r="13.2"/>
<circle cx="2673.5" cy="396.2" r="13.2"/>
<circle cx="2611.1" cy="389.2" r="13.2"/>
<circle cx="2601.7" cy="454.6" r="13.2"/>
<circle cx="2767.5" cy="308.7" r="13.2"/>
<circle cx="2895.8" cy="237.3" r="13.2"/>
<circle cx="2894.8" cy="327.8" r="13.2"/>
<circle cx="2855.2" cy="335.9" r="13.2"/>
<circle cx="2824.4" cy="369.7" r="13.2"/>
<circle cx="2804.3" cy="448.6" r="13.2"/>
<circle cx="2817.4" cy="463.6" r="13.2"/>
<circle cx="2719.8" cy="500.9" r="13.2"/>
<circle cx="2714.5" cy="567.8" r="13.2"/>
<circle cx="921.9" cy="1198.0" r="13.2"/>
<circle cx="1084.0" cy="826.7" r="13.2"/>
<circle cx="1349.2" cy="782.1" r="13.2"/>
<circle cx="2202.4" cy="654.3" r="13.2"/>
<circle cx="2052.9" cy="962.7" r="13.2"/>
<circle cx="2688.7" cy="638.9" r="13.2"/>
<circle cx="2663.8" cy="701.8" r="13.2"/>
<circle cx="2481.1" cy="790.0" r="13.2"/>
<circle cx="2710.3" cy="781.9" r="13.2"/>
</g>
<line x1="312.2" y1="653.0" x2="2983.5" y2="440.5" stroke="#000" stroke-width="3.9"/>
<text transform="matrix(0.8466 0 0 0.7849 356.89 234.00)" font-family='"Liberation Sans", sans-serif' font-size="100" font-weight="bold" fill="#000">A</text>
</g>
<circle cx="517" cy="53" r="15.3" fill="#fff" stroke="#0000ff" stroke-width="5.4"/>
<text x="584.5" y="73.2" font-family='"Liberation Sans", sans-serif' font-size="68" fill="#000" text-anchor="start" textLength="451.0" lengthAdjust="spacingAndGlyphs">Real networks</text>
<circle cx="1215.2" cy="53" r="12.6" fill="#ff0000"/>
<text x="1282.0" y="73.2" font-family='"Liberation Sans", sans-serif' font-size="68" fill="#000" text-anchor="start" textLength="388.0" lengthAdjust="spacingAndGlyphs">Randomized</text>
<line x1="1836.0" y1="51.4" x2="1941.0" y2="51.4" stroke="#000" stroke-width="5"/>
<g>
<text transform="matrix(0.7512 0 0 0.6874 1978.03 71.00)" font-family='"Liberation Serif", serif' font-size="100" font-style="italic" fill="#000">λ</text>
<text transform="matrix(0.6645 0 0 0.5135 2012.97 80.70)" font-family='"Liberation Serif", serif' font-size="100" fill="#000">Δ</text>
<text transform="matrix(0.5879 0 0 0.7488 2064.92 71.56)" font-family='"Liberation Serif", serif' font-size="100" fill="#000">(</text>
<text transform="matrix(0.6996 0 0 0.7271 2093.23 70.60)" font-family='"Liberation Serif", serif' font-size="100" font-style="italic" fill="#000">A</text>
<text transform="matrix(0.5879 0 0 0.7488 2140.01 71.56)" font-family='"Liberation Serif", serif' font-size="100" fill="#000">)</text>
<path d="M2193.5 20.4L2168.6 87.2" stroke="#000" stroke-width="3" fill="none" stroke-linecap="round"/>
<path d="M2205.7 55.2L2215.0 49.6L2228.3 86.5L2265.3 6.8L2399.6 6.8" fill="none" stroke="#000" stroke-width="2.7" stroke-linejoin="miter"/>
<path d="M2214.4 50.4L2229 85" fill="none" stroke="#000" stroke-width="5.8"/>
<path d="M2287.9 20.4L2273.6 53.6L2287.9 86.8" fill="none" stroke="#000" stroke-width="2.7" stroke-linejoin="miter" stroke-linecap="round"/>
<text transform="matrix(0.7236 0 0 0.6613 2292.27 70.35)" font-family='"Liberation Serif", serif' font-size="100" font-style="italic" fill="#000">w</text>
<text transform="matrix(0.5463 0 0 0.4667 2342.80 50.50)" font-family='"Liberation Serif", serif' font-size="100" fill="#000">2</text>
<path d="M2377.7 20.4L2391.3 53.6L2377.7 86.8" fill="none" stroke="#000" stroke-width="2.7" stroke-linejoin="miter" stroke-linecap="round"/>
</g>
<line x1="2422.2" y1="47.5" x2="2466.7" y2="47.5" stroke="#000" stroke-width="2.8"/>
<line x1="2422.2" y1="60.4" x2="2466.7" y2="60.4" stroke="#000" stroke-width="2.8"/>
<text transform="matrix(0.6853 0 0 0.6832 2489.99 71.13)" font-family='"Liberation Serif", serif' font-size="100" fill="#000">0.31</text>
<text transform="matrix(0.8439 0 0 0.6767 2621.55 71.54)" font-family='"Liberation Serif", serif' font-size="100" font-style="italic" fill="#000" stroke="#fff" stroke-width="0.90">n</text>
<text transform="matrix(0.5586 0 0 0.4785 2662.57 43.12)" font-family='"Liberation Serif", serif' font-size="100" fill="#000">0.28</text>
<g transform="translate(105.4,588.9) rotate(-90) scale(1.262) translate(-2265.3,-70.6)">
<text transform="matrix(0.7512 0 0 0.6874 1978.03 71.00)" font-family='"Liberation Serif", serif' font-size="100" font-style="italic" fill="#000">λ</text>
<text transform="matrix(0.6645 0 0 0.5135 2012.97 80.70)" font-family='"Liberation Serif", serif' font-size="100" fill="#000">Δ</text>
<text transform="matrix(0.5879 0 0 0.7488 2064.92 71.56)" font-family='"Liberation Serif", serif' font-size="100" fill="#000">(</text>
<text transform="matrix(0.6996 0 0 0.7271 2093.23 70.60)" font-family='"Liberation Serif", serif' font-size="100" font-style="italic" fill="#000">A</text>
<text transform="matrix(0.5879 0 0 0.7488 2140.01 71.56)" font-family='"Liberation Serif", serif' font-size="100" fill="#000">)</text>
<path d="M2193.5 20.4L2168.6 87.2" stroke="#000" stroke-width="3" fill="none" stroke-linecap="round"/>
<path d="M2205.7 55.2L2215.0 49.6L2228.3 86.5L2265.3 6.8L2399.6 6.8" fill="none" stroke="#000" stroke-width="2.7" stroke-linejoin="miter"/>
<path d="M2214.4 50.4L2229 85" fill="none" stroke="#000" stroke-width="5.8"/>
<path d="M2287.9 20.4L2273.6 53.6L2287.9 86.8" fill="none" stroke="#000" stroke-width="2.7" stroke-linejoin="miter" stroke-linecap="round"/>
<text transform="matrix(0.7236 0 0 0.6613 2292.27 70.35)" font-family='"Liberation Serif", serif' font-size="100" font-style="italic" fill="#000">w</text>
<text transform="matrix(0.5463 0 0 0.4667 2342.80 50.50)" font-family='"Liberation Serif", serif' font-size="100" fill="#000">2</text>
<path d="M2377.7 20.4L2391.3 53.6L2377.7 86.8" fill="none" stroke="#000" stroke-width="2.7" stroke-linejoin="miter" stroke-linecap="round"/>
</g>
<text transform="matrix(1.1331 0 0 0.9457 1608.81 1443.08)" font-family='"Liberation Serif", serif' font-size="100" font-style="italic" fill="#000" stroke="#fff" stroke-width="0.92">n</text>
<g id="panelB">
<rect x="313.6" y="1572.3" width="1119.4" height="1037.3" fill="none" stroke="#262626" stroke-width="3.0"/>
<line x1="355.6" y1="2609.6" x2="355.6" y2="2596.6" stroke="#262626" stroke-width="3.0"/>
<line x1="355.6" y1="1572.3" x2="355.6" y2="1585.3" stroke="#262626" stroke-width="3.0"/>
<text transform="matrix(0.7221 0 0 0.6850 294.50 2712.73)" font-family='"Liberation Sans", sans-serif' font-size="100" fill="#262626">10</text>
<text transform="matrix(0.5001 0 0 0.5424 380.60 2680.17)" font-family='"Liberation Sans", sans-serif' font-size="100" fill="#262626">3</text>
<line x1="625.0" y1="2609.6" x2="625.0" y2="2596.6" stroke="#262626" stroke-width="3.0"/>
<line x1="625.0" y1="1572.3" x2="625.0" y2="1585.3" stroke="#262626" stroke-width="3.0"/>
<text transform="matrix(0.7221 0 0 0.6850 563.90 2712.73)" font-family='"Liberation Sans", sans-serif' font-size="100" fill="#262626">10</text>
<text transform="matrix(0.5176 0 0 0.5523 647.74 2680.30)" font-family='"Liberation Sans", sans-serif' font-size="100" fill="#262626">4</text>
<line x1="894.4" y1="2609.6" x2="894.4" y2="2596.6" stroke="#262626" stroke-width="3.0"/>
<line x1="894.4" y1="1572.3" x2="894.4" y2="1585.3" stroke="#262626" stroke-width="3.0"/>
<text transform="matrix(0.7221 0 0 0.6850 833.30 2712.73)" font-family='"Liberation Sans", sans-serif' font-size="100" fill="#262626">10</text>
<text transform="matrix(0.4835 0 0 0.5446 919.96 2679.77)" font-family='"Liberation Sans", sans-serif' font-size="100" fill="#262626">5</text>
<line x1="1163.8" y1="2609.6" x2="1163.8" y2="2596.6" stroke="#262626" stroke-width="3.0"/>
<line x1="1163.8" y1="1572.3" x2="1163.8" y2="1585.3" stroke="#262626" stroke-width="3.0"/>
<text transform="matrix(0.7221 0 0 0.6850 1102.70 2712.73)" font-family='"Liberation Sans", sans-serif' font-size="100" fill="#262626">10</text>
<text transform="matrix(0.5310 0 0 0.5424 1187.41 2680.17)" font-family='"Liberation Sans", sans-serif' font-size="100" fill="#262626">6</text>
<line x1="313.6" y1="2570.0" x2="327.6" y2="2570.0" stroke="#262626" stroke-width="3.0"/>
<line x1="1433.0" y1="2570.0" x2="1419.0" y2="2570.0" stroke="#262626" stroke-width="3.0"/>
<text transform="matrix(0.7131 0 0 0.6907 171.57 2595.93)" font-family='"Liberation Sans", sans-serif' font-size="100" fill="#000">10</text>
<text transform="matrix(0.4695 0 0 0.4534 253.77 2569.56)" font-family='"Liberation Sans", sans-serif' font-size="100" fill="#000">0</text>
<line x1="313.6" y1="2170.7" x2="327.6" y2="2170.7" stroke="#262626" stroke-width="3.0"/>
<line x1="1433.0" y1="2170.7" x2="1419.0" y2="2170.7" stroke="#262626" stroke-width="3.0"/>
<text transform="matrix(0.7131 0 0 0.6907 171.57 2196.63)" font-family='"Liberation Sans", sans-serif' font-size="100" fill="#000">10</text>
<text transform="matrix(0.4338 0 0 0.4608 253.78 2170.30)" font-family='"Liberation Sans", sans-serif' font-size="100" fill="#000">1</text>
<line x1="313.6" y1="1771.4" x2="327.6" y2="1771.4" stroke="#262626" stroke-width="3.0"/>
<line x1="1433.0" y1="1771.4" x2="1419.0" y2="1771.4" stroke="#262626" stroke-width="3.0"/>
<text transform="matrix(0.7131 0 0 0.6907 171.57 1797.33)" font-family='"Liberation Sans", sans-serif' font-size="100" fill="#000">10</text>
<text transform="matrix(0.4762 0 0 0.4540 252.71 1771.00)" font-family='"Liberation Sans", sans-serif' font-size="100" fill="#000">2</text>
<g fill="#0072BD">
<circle cx="410.1" cy="2172.4" r="13.5"/>
<circle cx="464.0" cy="2127.6" r="13.5"/>
<circle cx="517.8" cy="2083.1" r="13.5"/>
<circle cx="571.7" cy="2040.9" r="13.5"/>
<circle cx="625.5" cy="1997.2" r="13.5"/>
<circle cx="679.4" cy="1955.8" r="13.5"/>
<circle cx="733.2" cy="1916.2" r="13.5"/>
<circle cx="787.0" cy="1876.9" r="13.5"/>
<circle cx="840.9" cy="1837.7" r="13.5"/>
<circle cx="894.8" cy="1799.5" r="13.5"/>
<circle cx="948.6" cy="1763.0" r="13.5"/>
<circle cx="1002.5" cy="1726.2" r="13.5"/>
<circle cx="1056.3" cy="1689.1" r="13.5"/>
<circle cx="1110.2" cy="1653.0" r="13.5"/>
</g>
<g fill="#EDB120">
<circle cx="410.1" cy="2222.9" r="13.5"/>
<circle cx="464.0" cy="2185.6" r="13.5"/>
<circle cx="517.8" cy="2152.5" r="13.5"/>
<circle cx="571.7" cy="2117.8" r="13.5"/>
<circle cx="625.5" cy="2085.4" r="13.5"/>
<circle cx="679.4" cy="2054.9" r="13.5"/>
<circle cx="733.2" cy="2025.5" r="13.5"/>
<circle cx="787.0" cy="1997.2" r="13.5"/>
<circle cx="840.9" cy="1969.0" r="13.5"/>
<circle cx="894.8" cy="1943.6" r="13.5"/>
<circle cx="948.6" cy="1917.6" r="13.5"/>
<circle cx="1002.5" cy="1892.6" r="13.5"/>
<circle cx="1056.3" cy="1867.9" r="13.5"/>
<circle cx="1110.2" cy="1843.8" r="13.5"/>
</g>
<g fill="#77AC30">
<circle cx="410.1" cy="2287.7" r="13.5"/>
<circle cx="464.0" cy="2258.7" r="13.5"/>
<circle cx="517.8" cy="2238.0" r="13.5"/>
<circle cx="571.7" cy="2214.3" r="13.5"/>
<circle cx="625.5" cy="2192.4" r="13.5"/>
<circle cx="679.4" cy="2173.6" r="13.5"/>
<circle cx="733.2" cy="2156.2" r="13.5"/>
<circle cx="787.0" cy="2138.9" r="13.5"/>
<circle cx="840.9" cy="2122.3" r="13.5"/>
<circle cx="894.8" cy="2107.6" r="13.5"/>
<circle cx="948.6" cy="2094.0" r="13.5"/>
<circle cx="1002.5" cy="2078.9" r="13.5"/>
<circle cx="1056.3" cy="2064.4" r="13.5"/>
<circle cx="1110.2" cy="2051.2" r="13.5"/>
</g>
<g fill="#A2142F">
<circle cx="410.1" cy="2357.4" r="13.5"/>
<circle cx="464.0" cy="2337.1" r="13.5"/>
<circle cx="517.8" cy="2323.5" r="13.5"/>
<circle cx="571.7" cy="2312.2" r="13.5"/>
<circle cx="625.5" cy="2300.2" r="13.5"/>
<circle cx="679.4" cy="2288.9" r="13.5"/>
<circle cx="733.2" cy="2280.6" r="13.5"/>
<circle cx="787.0" cy="2271.5" r="13.5"/>
<circle cx="840.9" cy="2262.5" r="13.5"/>
<circle cx="894.8" cy="2255.8" r="13.5"/>
<circle cx="948.6" cy="2247.7" r="13.5"/>
<circle cx="1002.5" cy="2236.6" r="13.5"/>
<circle cx="1056.3" cy="2224.2" r="13.5"/>
<circle cx="1110.2" cy="2207.0" r="13.5"/>
</g>
<g fill="#D95319">
<circle cx="410.1" cy="2418.9" r="13.5"/>
<circle cx="464.0" cy="2411.3" r="13.5"/>
<circle cx="517.8" cy="2403.8" r="13.5"/>
<circle cx="571.7" cy="2397.8" r="13.5"/>
<circle cx="625.5" cy="2392.9" r="13.5"/>
<circle cx="679.4" cy="2387.2" r="13.5"/>
<circle cx="733.2" cy="2382.3" r="13.5"/>
<circle cx="787.0" cy="2377.4" r="13.5"/>
<circle cx="840.9" cy="2373.6" r="13.5"/>
<circle cx="894.8" cy="2368.4" r="13.5"/>
<circle cx="948.6" cy="2366.8" r="13.5"/>
<circle cx="1002.5" cy="2354.7" r="13.5"/>
<circle cx="1056.3" cy="2350.2" r="13.5"/>
<circle cx="1110.2" cy="2322.2" r="13.5"/>
</g>
<g fill="#7E2F8E">
<circle cx="410.1" cy="2480.7" r="13.5"/>
<circle cx="464.0" cy="2472.0" r="13.5"/>
<circle cx="517.8" cy="2469.0" r="13.5"/>
<circle cx="571.7" cy="2464.8" r="13.5"/>
<circle cx="625.5" cy="2464.8" r="13.5"/>
<circle cx="679.4" cy="2462.2" r="13.5"/>
<circle cx="733.2" cy="2461.1" r="13.5"/>
<circle cx="787.0" cy="2458.0" r="13.5"/>
<circle cx="840.9" cy="2458.0" r="13.5"/>
<circle cx="894.8" cy="2456.7" r="13.5"/>
<circle cx="948.6" cy="2450.3" r="13.5"/>
<circle cx="1002.5" cy="2450.6" r="13.5"/>
<circle cx="1056.3" cy="2440.6" r="13.5"/>
<circle cx="1110.2" cy="2428.0" r="13.5"/>
</g>
<g fill="#4DBEEE">
<circle cx="410.1" cy="2522.9" r="13.5"/>
<circle cx="464.0" cy="2519.8" r="13.5"/>
<circle cx="517.8" cy="2516.8" r="13.5"/>
<circle cx="571.7" cy="2516.5" r="13.5"/>
<circle cx="625.5" cy="2515.7" r="13.5"/>
<circle cx="679.4" cy="2515.7" r="13.5"/>
<circle cx="733.2" cy="2514.2" r="13.5"/>
<circle cx="787.0" cy="2515.0" r="13.5"/>
<circle cx="840.9" cy="2514.2" r="13.5"/>
<circle cx="894.8" cy="2513.6" r="13.5"/>
<circle cx="948.6" cy="2513.0" r="13.5"/>
<circle cx="1002.5" cy="2513.0" r="13.5"/>
<circle cx="1056.3" cy="2510.6" r="13.5"/>
<circle cx="1110.2" cy="2507.0" r="13.5"/>
</g>
<line x1="544.7" y1="2054.0" x2="1136.7" y2="1630.3" stroke="#000" stroke-width="2.7"/>
<line x1="544.7" y1="2124.4" x2="1136.7" y2="1826.3" stroke="#000" stroke-width="2.7"/>
<line x1="544.7" y1="2216.0" x2="1136.7" y2="2039.4" stroke="#000" stroke-width="2.7"/>
<line x1="544.7" y1="2316.2" x2="1136.7" y2="2209.7" stroke="#000" stroke-width="2.7"/>
<line x1="544.7" y1="2405.5" x2="1136.7" y2="2336.6" stroke="#000" stroke-width="2.7"/>
<line x1="544.7" y1="2472.2" x2="1136.7" y2="2437.6" stroke="#000" stroke-width="2.7"/>
<line x1="544.7" y1="2518.6" x2="1136.7" y2="2510.6" stroke="#000" stroke-width="2.7"/>
<text transform="matrix(0.7772 0 0 0.7704 359.10 1683.00)" font-family='"Liberation Sans", sans-serif' font-size="100" font-weight="bold" fill="#000">B</text>
<g transform="translate(886.0,1765.6) rotate(-35.6)">
<path d="M-64.50 -6.10C-63.82 -7.50 -62.24 -12.60 -60.40 -14.50C-58.55 -16.40 -56.16 -18.00 -53.43 -17.50C-50.70 -17.00 -47.14 -13.50 -44.00 -11.50C-40.86 -9.50 -37.30 -6.00 -34.57 -5.50C-31.84 -5.00 -29.45 -6.60 -27.60 -8.50C-25.76 -10.40 -24.18 -15.50 -23.50 -16.90" fill="none" stroke="#000" stroke-width="2.5" stroke-linecap="round"/>
<text transform="matrix(0.5708 0 0 0.4967 -0.85 0.75)" font-family='"Liberation Serif", serif' font-size="100" font-style="italic" fill="#000" stroke="#fff" stroke-width="0.94">n</text>
<text transform="matrix(0.4779 0 0 0.3857 29.68 -24.85)" font-family='"Liberation Serif", serif' font-size="100" fill="#000">0.48</text>
</g>
<g transform="translate(924.2,1897.9) rotate(-26.7)">
<path d="M-64.50 -6.10C-63.82 -7.50 -62.24 -12.60 -60.40 -14.50C-58.55 -16.40 -56.16 -18.00 -53.43 -17.50C-50.70 -17.00 -47.14 -13.50 -44.00 -11.50C-40.86 -9.50 -37.30 -6.00 -34.57 -5.50C-31.84 -5.00 -29.45 -6.60 -27.60 -8.50C-25.76 -10.40 -24.18 -15.50 -23.50 -16.90" fill="none" stroke="#000" stroke-width="2.5" stroke-linecap="round"/>
<text transform="matrix(0.5708 0 0 0.4967 -0.85 0.75)" font-family='"Liberation Serif", serif' font-size="100" font-style="italic" fill="#000" stroke="#fff" stroke-width="0.94">n</text>
<text transform="matrix(0.4775 0 0 0.3857 29.68 -24.85)" font-family='"Liberation Serif", serif' font-size="100" fill="#000">0.34</text>
</g>
<g transform="translate(953.0,2061.9) rotate(-16.6)">
<path d="M-64.50 -6.10C-63.82 -7.50 -62.24 -12.60 -60.40 -14.50C-58.55 -16.40 -56.16 -18.00 -53.43 -17.50C-50.70 -17.00 -47.14 -13.50 -44.00 -11.50C-40.86 -9.50 -37.30 -6.00 -34.57 -5.50C-31.84 -5.00 -29.45 -6.60 -27.60 -8.50C-25.76 -10.40 -24.18 -15.50 -23.50 -16.90" fill="none" stroke="#000" stroke-width="2.5" stroke-linecap="round"/>
<text transform="matrix(0.5708 0 0 0.4967 -0.85 0.75)" font-family='"Liberation Serif", serif' font-size="100" font-style="italic" fill="#000" stroke="#fff" stroke-width="0.94">n</text>
<text transform="matrix(0.4779 0 0 0.3857 29.68 -24.85)" font-family='"Liberation Serif", serif' font-size="100" fill="#000">0.20</text>
</g>
<g transform="translate(972.5,2210.5) rotate(-10.2)">
<path d="M-64.50 -6.10C-63.82 -7.50 -62.24 -12.60 -60.40 -14.50C-58.55 -16.40 -56.16 -18.00 -53.43 -17.50C-50.70 -17.00 -47.14 -13.50 -44.00 -11.50C-40.86 -9.50 -37.30 -6.00 -34.57 -5.50C-31.84 -5.00 -29.45 -6.60 -27.60 -8.50C-25.76 -10.40 -24.18 -15.50 -23.50 -16.90" fill="none" stroke="#000" stroke-width="2.5" stroke-linecap="round"/>
<text transform="matrix(0.5708 0 0 0.4967 -0.85 0.75)" font-family='"Liberation Serif", serif' font-size="100" font-style="italic" fill="#000" stroke="#fff" stroke-width="0.94">n</text>
<text transform="matrix(0.4768 0 0 0.3857 29.68 -24.85)" font-family='"Liberation Serif", serif' font-size="100" fill="#000">0.12</text>
</g>
<g transform="translate(978.5,2333.2) rotate(-6.6)">
<path d="M-64.50 -6.10C-63.82 -7.50 -62.24 -12.60 -60.40 -14.50C-58.55 -16.40 -56.16 -18.00 -53.43 -17.50C-50.70 -17.00 -47.14 -13.50 -44.00 -11.50C-40.86 -9.50 -37.30 -6.00 -34.57 -5.50C-31.84 -5.00 -29.45 -6.60 -27.60 -8.50C-25.76 -10.40 -24.18 -15.50 -23.50 -16.90" fill="none" stroke="#000" stroke-width="2.5" stroke-linecap="round"/>
<text transform="matrix(0.5708 0 0 0.4967 -0.85 0.75)" font-family='"Liberation Serif", serif' font-size="100" font-style="italic" fill="#000" stroke="#fff" stroke-width="0.94">n</text>
<text transform="matrix(0.4745 0 0 0.3857 29.69 -24.85)" font-family='"Liberation Serif", serif' font-size="100" fill="#000">0.079</text>
</g>
<g transform="translate(986.5,2427.1) rotate(-3.3)">
<path d="M-64.50 -6.10C-63.82 -7.50 -62.24 -12.60 -60.40 -14.50C-58.55 -16.40 -56.16 -18.00 -53.43 -17.50C-50.70 -17.00 -47.14 -13.50 -44.00 -11.50C-40.86 -9.50 -37.30 -6.00 -34.57 -5.50C-31.84 -5.00 -29.45 -6.60 -27.60 -8.50C-25.76 -10.40 -24.18 -15.50 -23.50 -16.90" fill="none" stroke="#000" stroke-width="2.5" stroke-linecap="round"/>
<text transform="matrix(0.5708 0 0 0.4967 -0.85 0.75)" font-family='"Liberation Serif", serif' font-size="100" font-style="italic" fill="#000" stroke="#fff" stroke-width="0.94">n</text>
<text transform="matrix(0.4699 0 0 0.3857 29.71 -24.85)" font-family='"Liberation Serif", serif' font-size="100" fill="#000">0.039</text>
</g>
<g transform="translate(986.5,2586.0) rotate(-0.8)">
<path d="M-64.50 -6.10C-63.82 -7.50 -62.24 -12.60 -60.40 -14.50C-58.55 -16.40 -56.16 -18.00 -53.43 -17.50C-50.70 -17.00 -47.14 -13.50 -44.00 -11.50C-40.86 -9.50 -37.30 -6.00 -34.57 -5.50C-31.84 -5.00 -29.45 -6.60 -27.60 -8.50C-25.76 -10.40 -24.18 -15.50 -23.50 -16.90" fill="none" stroke="#000" stroke-width="2.5" stroke-linecap="round"/>
<text transform="matrix(0.5708 0 0 0.4967 -0.85 0.75)" font-family='"Liberation Serif", serif' font-size="100" font-style="italic" fill="#000" stroke="#fff" stroke-width="0.94">n</text>
<text transform="matrix(0.4714 0 0 0.3857 29.70 -24.85)" font-family='"Liberation Serif", serif' font-size="100" fill="#000">0.0093</text>
</g>
<text transform="matrix(0.6769 0 0 0.6249 1170.64 1652.60)" font-family='"Liberation Serif", serif' font-size="100" fill="#0072BD">β</text>
<line x1="1228.4" y1="1635.8" x2="1271.5" y2="1635.8" stroke="#0072BD" stroke-width="2.6"/>
<line x1="1228.4" y1="1645.4" x2="1271.5" y2="1645.4" stroke="#0072BD" stroke-width="2.6"/>
<text transform="matrix(0.6635 0 0 0.6567 1291.18 1653.77)" font-family='"Liberation Serif", serif' font-size="100" fill="#0072BD">2.0</text>
<text transform="matrix(0.6769 0 0 0.6249 1170.64 1844.00)" font-family='"Liberation Serif", serif' font-size="100" fill="#EDB120">β</text>
<line x1="1228.4" y1="1827.2" x2="1271.5" y2="1827.2" stroke="#EDB120" stroke-width="2.6"/>
<line x1="1228.4" y1="1836.8" x2="1271.5" y2="1836.8" stroke="#EDB120" stroke-width="2.6"/>
<text transform="matrix(0.6641 0 0 0.6595 1291.18 1845.17)" font-family='"Liberation Serif", serif' font-size="100" fill="#EDB120">2.5</text>
<text transform="matrix(0.6769 0 0 0.6249 1170.64 2055.00)" font-family='"Liberation Serif", serif' font-size="100" fill="#77AC30">β</text>
<line x1="1228.4" y1="2038.2" x2="1271.5" y2="2038.2" stroke="#77AC30" stroke-width="2.6"/>
<line x1="1228.4" y1="2047.8" x2="1271.5" y2="2047.8" stroke="#77AC30" stroke-width="2.6"/>
<text transform="matrix(0.6658 0 0 0.6567 1290.91 2056.17)" font-family='"Liberation Serif", serif' font-size="100" fill="#77AC30">3.0</text>
<text transform="matrix(0.6769 0 0 0.6249 1170.64 2222.30)" font-family='"Liberation Serif", serif' font-size="100" fill="#D4808F">β</text>
<line x1="1228.4" y1="2205.5" x2="1271.5" y2="2205.5" stroke="#D4808F" stroke-width="2.6"/>
<line x1="1228.4" y1="2215.1" x2="1271.5" y2="2215.1" stroke="#D4808F" stroke-width="2.6"/>
<text transform="matrix(0.6663 0 0 0.6595 1290.91 2223.47)" font-family='"Liberation Serif", serif' font-size="100" fill="#D4808F">3.5</text>
<text transform="matrix(0.6769 0 0 0.6249 1170.64 2355.50)" font-family='"Liberation Serif", serif' font-size="100" fill="#D95319">β</text>
<line x1="1228.4" y1="2338.7" x2="1271.5" y2="2338.7" stroke="#D95319" stroke-width="2.6"/>
<line x1="1228.4" y1="2348.3" x2="1271.5" y2="2348.3" stroke="#D95319" stroke-width="2.6"/>
<text transform="matrix(0.6500 0 0 0.6567 1292.83 2356.67)" font-family='"Liberation Serif", serif' font-size="100" fill="#D95319">4.0</text>
<text transform="matrix(0.6769 0 0 0.6249 1170.64 2452.00)" font-family='"Liberation Serif", serif' font-size="100" fill="#7E2F8E">β</text>
<line x1="1228.4" y1="2435.2" x2="1271.5" y2="2435.2" stroke="#7E2F8E" stroke-width="2.6"/>
<line x1="1228.4" y1="2444.8" x2="1271.5" y2="2444.8" stroke="#7E2F8E" stroke-width="2.6"/>
<text transform="matrix(0.6505 0 0 0.6633 1292.83 2453.16)" font-family='"Liberation Serif", serif' font-size="100" fill="#7E2F8E">4.5</text>
<text transform="matrix(0.6769 0 0 0.6249 1170.64 2530.40)" font-family='"Liberation Serif", serif' font-size="100" fill="#3BB4EA">β</text>
<line x1="1228.4" y1="2513.6" x2="1271.5" y2="2513.6" stroke="#3BB4EA" stroke-width="2.6"/>
<line x1="1228.4" y1="2523.2" x2="1271.5" y2="2523.2" stroke="#3BB4EA" stroke-width="2.6"/>
<text transform="matrix(0.6717 0 0 0.6567 1290.20 2531.57)" font-family='"Liberation Serif", serif' font-size="100" fill="#3BB4EA">5.0</text>
<g transform="translate(78,2224.5) rotate(-90) scale(1.348) translate(-1976.2,-70.6)">
<text transform="matrix(0.7512 0 0 0.6874 1978.03 71.00)" font-family='"Liberation Serif", serif' font-size="100" font-style="italic" fill="#000">λ</text>
<text transform="matrix(0.6645 0 0 0.5135 2012.97 80.70)" font-family='"Liberation Serif", serif' font-size="100" fill="#000">Δ</text>
<text transform="matrix(0.5879 0 0 0.7488 2064.92 71.56)" font-family='"Liberation Serif", serif' font-size="100" fill="#000">(</text>
<text transform="matrix(0.6996 0 0 0.7271 2093.23 70.60)" font-family='"Liberation Serif", serif' font-size="100" font-style="italic" fill="#000">A</text>
<text transform="matrix(0.5879 0 0 0.7488 2140.01 71.56)" font-family='"Liberation Serif", serif' font-size="100" fill="#000">)</text>
</g>
<text transform="matrix(1.0109 0 0 0.8437 859.72 2796.63)" font-family='"Liberation Serif", serif' font-size="100" font-style="italic" fill="#000" stroke="#fff" stroke-width="0.92">n</text>
</g>
<g id="panelC">
<rect x="1760.4" y="1571.3" width="1220.6" height="1037.1" fill="none" stroke="#262626" stroke-width="3.0"/>
<line x1="2167.3" y1="2608.4" x2="2167.3" y2="2595.4" stroke="#262626" stroke-width="3.0"/>
<line x1="2167.3" y1="1571.3" x2="2167.3" y2="1584.3" stroke="#262626" stroke-width="3.0"/>
<line x1="2574.1" y1="2608.4" x2="2574.1" y2="2595.4" stroke="#262626" stroke-width="3.0"/>
<line x1="2574.1" y1="1571.3" x2="2574.1" y2="1584.3" stroke="#262626" stroke-width="3.0"/>
<line x1="1760.4" y1="2593.0" x2="1774.4" y2="2593.0" stroke="#262626" stroke-width="3.0"/>
<line x1="2981.0" y1="2593.0" x2="2967.0" y2="2593.0" stroke="#262626" stroke-width="3.0"/>
<text transform="matrix(0.6171 0 0 0.6497 1707.09 2614.27)" font-family='"Liberation Sans", sans-serif' font-size="100" fill="#262626">0</text>
<line x1="1760.4" y1="2264.0" x2="1774.4" y2="2264.0" stroke="#262626" stroke-width="3.0"/>
<line x1="2981.0" y1="2264.0" x2="2967.0" y2="2264.0" stroke="#262626" stroke-width="3.0"/>
<text transform="matrix(0.6696 0 0 0.6497 1648.08 2285.27)" font-family='"Liberation Sans", sans-serif' font-size="100" fill="#262626">0.1</text>
<line x1="1760.4" y1="1935.0" x2="1774.4" y2="1935.0" stroke="#262626" stroke-width="3.0"/>
<line x1="2981.0" y1="1935.0" x2="2967.0" y2="1935.0" stroke="#262626" stroke-width="3.0"/>
<text transform="matrix(0.6704 0 0 0.6497 1648.08 1956.27)" font-family='"Liberation Sans", sans-serif' font-size="100" fill="#262626">0.2</text>
<line x1="1760.4" y1="1606.0" x2="1774.4" y2="1606.0" stroke="#262626" stroke-width="3.0"/>
<line x1="2981.0" y1="1606.0" x2="2967.0" y2="1606.0" stroke="#262626" stroke-width="3.0"/>
<text transform="matrix(0.6671 0 0 0.6497 1648.09 1627.27)" font-family='"Liberation Sans", sans-serif' font-size="100" fill="#262626">0.3</text>
<text transform="matrix(0.6695 0 0 0.6216 1741.63 2684.40)" font-family='"Liberation Sans", sans-serif' font-size="100" fill="#262626">2</text>
<text transform="matrix(0.6117 0 0 0.6215 2150.17 2684.39)" font-family='"Liberation Sans", sans-serif' font-size="100" fill="#262626">3</text>
<text transform="matrix(0.6291 0 0 0.6308 2556.66 2684.40)" font-family='"Liberation Sans", sans-serif' font-size="100" fill="#262626">4</text>
<text transform="matrix(0.6011 0 0 0.6306 2963.59 2684.38)" font-family='"Liberation Sans", sans-serif' font-size="100" fill="#262626">5</text>
<g fill="#6666ff">
<circle cx="1760.4" cy="1620.1" r="7.6"/>
<circle cx="1764.5" cy="1627.9" r="7.6"/>
<circle cx="1768.5" cy="1628.1" r="7.6"/>
<circle cx="1772.6" cy="1636.1" r="7.6"/>
<circle cx="1776.7" cy="1646.1" r="7.6"/>
<circle cx="1780.7" cy="1651.9" r="7.6"/>
<circle cx="1784.8" cy="1659.0" r="7.6"/>
<circle cx="1788.9" cy="1665.4" r="7.6"/>
<circle cx="1792.9" cy="1668.5" r="7.6"/>
<circle cx="1797.0" cy="1672.5" r="7.6"/>
<circle cx="1801.1" cy="1683.4" r="7.6"/>
<circle cx="1805.2" cy="1691.6" r="7.6"/>
<circle cx="1809.2" cy="1697.6" r="7.6"/>
<circle cx="1813.3" cy="1702.2" r="7.6"/>
<circle cx="1817.4" cy="1708.3" r="7.6"/>
<circle cx="1821.4" cy="1717.6" r="7.6"/>
<circle cx="1825.5" cy="1722.9" r="7.6"/>
<circle cx="1829.6" cy="1728.5" r="7.6"/>
<circle cx="1833.6" cy="1735.8" r="7.6"/>
<circle cx="1837.7" cy="1745.4" r="7.6"/>
<circle cx="1841.8" cy="1751.9" r="7.6"/>
<circle cx="1845.8" cy="1762.0" r="7.6"/>
<circle cx="1849.9" cy="1765.5" r="7.6"/>
<circle cx="1854.0" cy="1770.8" r="7.6"/>
<circle cx="1858.0" cy="1776.2" r="7.6"/>
<circle cx="1862.1" cy="1789.1" r="7.6"/>
<circle cx="1866.2" cy="1797.8" r="7.6"/>
<circle cx="1870.3" cy="1802.2" r="7.6"/>
<circle cx="1874.3" cy="1810.0" r="7.6"/>
<circle cx="1878.4" cy="1814.0" r="7.6"/>
<circle cx="1882.5" cy="1820.3" r="7.6"/>
<circle cx="1886.5" cy="1828.6" r="7.6"/>
<circle cx="1890.6" cy="1833.4" r="7.6"/>
<circle cx="1894.7" cy="1845.0" r="7.6"/>
<circle cx="1898.7" cy="1846.7" r="7.6"/>
<circle cx="1902.8" cy="1852.3" r="7.6"/>
<circle cx="1906.9" cy="1860.2" r="7.6"/>
<circle cx="1910.9" cy="1875.9" r="7.6"/>
<circle cx="1915.0" cy="1881.2" r="7.6"/>
<circle cx="1919.1" cy="1888.4" r="7.6"/>
<circle cx="1923.1" cy="1895.0" r="7.6"/>
<circle cx="1927.2" cy="1904.8" r="7.6"/>
<circle cx="1931.3" cy="1906.2" r="7.6"/>
<circle cx="1935.4" cy="1917.7" r="7.6"/>
<circle cx="1939.4" cy="1925.2" r="7.6"/>
<circle cx="1943.5" cy="1929.3" r="7.6"/>
<circle cx="1947.6" cy="1943.1" r="7.6"/>
<circle cx="1951.6" cy="1940.8" r="7.6"/>
<circle cx="1955.7" cy="1952.6" r="7.6"/>
<circle cx="1959.8" cy="1961.5" r="7.6"/>
<circle cx="1963.8" cy="1966.6" r="7.6"/>
<circle cx="1967.9" cy="1973.9" r="7.6"/>
<circle cx="1972.0" cy="1974.6" r="7.6"/>
<circle cx="1976.0" cy="1985.0" r="7.6"/>
<circle cx="1980.1" cy="1986.9" r="7.6"/>
<circle cx="1984.2" cy="1999.0" r="7.6"/>
<circle cx="1988.2" cy="2012.1" r="7.6"/>
<circle cx="1992.3" cy="2012.1" r="7.6"/>
<circle cx="1996.4" cy="2025.6" r="7.6"/>
<circle cx="2000.5" cy="2031.7" r="7.6"/>
<circle cx="2004.5" cy="2036.6" r="7.6"/>
<circle cx="2008.6" cy="2042.8" r="7.6"/>
<circle cx="2012.7" cy="2050.5" r="7.6"/>
<circle cx="2016.7" cy="2052.5" r="7.6"/>
<circle cx="2020.8" cy="2062.0" r="7.6"/>
<circle cx="2024.9" cy="2068.8" r="7.6"/>
<circle cx="2028.9" cy="2075.5" r="7.6"/>
<circle cx="2033.0" cy="2084.1" r="7.6"/>
<circle cx="2037.1" cy="2086.4" r="7.6"/>
<circle cx="2041.1" cy="2096.8" r="7.6"/>
<circle cx="2045.2" cy="2101.3" r="7.6"/>
<circle cx="2049.3" cy="2110.8" r="7.6"/>
<circle cx="2053.3" cy="2122.2" r="7.6"/>
<circle cx="2057.4" cy="2122.7" r="7.6"/>
<circle cx="2061.5" cy="2127.3" r="7.6"/>
<circle cx="2065.6" cy="2134.1" r="7.6"/>
<circle cx="2069.6" cy="2143.3" r="7.6"/>
<circle cx="2073.7" cy="2143.2" r="7.6"/>
<circle cx="2077.8" cy="2155.2" r="7.6"/>
<circle cx="2081.8" cy="2163.0" r="7.6"/>
<circle cx="2085.9" cy="2163.8" r="7.6"/>
<circle cx="2090.0" cy="2172.5" r="7.6"/>
<circle cx="2094.0" cy="2179.8" r="7.6"/>
<circle cx="2098.1" cy="2178.3" r="7.6"/>
<circle cx="2102.2" cy="2188.9" r="7.6"/>
<circle cx="2106.2" cy="2195.4" r="7.6"/>
<circle cx="2110.3" cy="2199.4" r="7.6"/>
<circle cx="2114.4" cy="2207.7" r="7.6"/>
<circle cx="2118.4" cy="2204.6" r="7.6"/>
<circle cx="2122.5" cy="2219.0" r="7.6"/>
<circle cx="2126.6" cy="2220.9" r="7.6"/>
<circle cx="2130.6" cy="2229.2" r="7.6"/>
<circle cx="2134.7" cy="2234.3" r="7.6"/>
<circle cx="2138.8" cy="2242.4" r="7.6"/>
<circle cx="2142.9" cy="2239.5" r="7.6"/>
<circle cx="2146.9" cy="2249.6" r="7.6"/>
<circle cx="2151.0" cy="2250.7" r="7.6"/>
<circle cx="2155.1" cy="2253.8" r="7.6"/>
<circle cx="2159.1" cy="2262.6" r="7.6"/>
<circle cx="2163.2" cy="2269.8" r="7.6"/>
<circle cx="2167.3" cy="2277.0" r="7.6"/>
<circle cx="2171.3" cy="2271.8" r="7.6"/>
<circle cx="2175.4" cy="2288.9" r="7.6"/>
<circle cx="2179.5" cy="2287.6" r="7.6"/>
<circle cx="2183.5" cy="2297.7" r="7.6"/>
<circle cx="2187.6" cy="2304.0" r="7.6"/>
<circle cx="2191.7" cy="2307.2" r="7.6"/>
<circle cx="2195.7" cy="2300.4" r="7.6"/>
<circle cx="2199.8" cy="2304.2" r="7.6"/>
<circle cx="2203.9" cy="2316.5" r="7.6"/>
<circle cx="2208.0" cy="2314.4" r="7.6"/>
<circle cx="2212.0" cy="2324.7" r="7.6"/>
<circle cx="2216.1" cy="2331.2" r="7.6"/>
<circle cx="2220.2" cy="2332.6" r="7.6"/>
<circle cx="2224.2" cy="2339.0" r="7.6"/>
<circle cx="2228.3" cy="2347.0" r="7.6"/>
<circle cx="2232.4" cy="2351.7" r="7.6"/>
<circle cx="2236.4" cy="2356.1" r="7.6"/>
<circle cx="2240.5" cy="2349.4" r="7.6"/>
<circle cx="2244.6" cy="2355.8" r="7.6"/>
<circle cx="2248.6" cy="2359.3" r="7.6"/>
<circle cx="2252.7" cy="2362.4" r="7.6"/>
<circle cx="2256.8" cy="2370.9" r="7.6"/>
<circle cx="2260.8" cy="2374.8" r="7.6"/>
<circle cx="2264.9" cy="2373.3" r="7.6"/>
<circle cx="2269.0" cy="2382.8" r="7.6"/>
<circle cx="2273.1" cy="2381.6" r="7.6"/>
<circle cx="2277.1" cy="2388.7" r="7.6"/>
<circle cx="2281.2" cy="2390.5" r="7.6"/>
<circle cx="2285.3" cy="2395.3" r="7.6"/>
<circle cx="2289.3" cy="2395.6" r="7.6"/>
<circle cx="2293.4" cy="2402.8" r="7.6"/>
<circle cx="2297.5" cy="2402.2" r="7.6"/>
<circle cx="2301.5" cy="2411.2" r="7.6"/>
<circle cx="2305.6" cy="2411.7" r="7.6"/>
<circle cx="2309.7" cy="2412.8" r="7.6"/>
<circle cx="2313.7" cy="2423.9" r="7.6"/>
<circle cx="2317.8" cy="2420.5" r="7.6"/>
<circle cx="2321.9" cy="2425.1" r="7.6"/>
<circle cx="2325.9" cy="2432.5" r="7.6"/>
<circle cx="2330.0" cy="2432.4" r="7.6"/>
<circle cx="2334.1" cy="2435.5" r="7.6"/>
<circle cx="2338.2" cy="2437.2" r="7.6"/>
<circle cx="2342.2" cy="2441.3" r="7.6"/>
<circle cx="2346.3" cy="2444.3" r="7.6"/>
<circle cx="2350.4" cy="2444.4" r="7.6"/>
<circle cx="2354.4" cy="2452.5" r="7.6"/>
<circle cx="2358.5" cy="2456.2" r="7.6"/>
<circle cx="2362.6" cy="2456.7" r="7.6"/>
<circle cx="2366.6" cy="2455.1" r="7.6"/>
<circle cx="2370.7" cy="2459.6" r="7.6"/>
<circle cx="2374.8" cy="2459.4" r="7.6"/>
<circle cx="2378.8" cy="2462.4" r="7.6"/>
<circle cx="2382.9" cy="2467.9" r="7.6"/>
<circle cx="2387.0" cy="2472.6" r="7.6"/>
<circle cx="2391.0" cy="2466.7" r="7.6"/>
<circle cx="2395.1" cy="2470.2" r="7.6"/>
<circle cx="2399.2" cy="2472.5" r="7.6"/>
<circle cx="2403.2" cy="2479.7" r="7.6"/>
<circle cx="2407.3" cy="2471.0" r="7.6"/>
<circle cx="2411.4" cy="2487.5" r="7.6"/>
<circle cx="2415.5" cy="2485.4" r="7.6"/>
<circle cx="2419.5" cy="2479.5" r="7.6"/>
<circle cx="2423.6" cy="2491.6" r="7.6"/>
<circle cx="2427.7" cy="2494.6" r="7.6"/>
<circle cx="2431.7" cy="2498.2" r="7.6"/>
<circle cx="2435.8" cy="2495.0" r="7.6"/>
<circle cx="2439.9" cy="2496.6" r="7.6"/>
<circle cx="2443.9" cy="2505.1" r="7.6"/>
<circle cx="2448.0" cy="2503.2" r="7.6"/>
<circle cx="2452.1" cy="2507.3" r="7.6"/>
<circle cx="2456.1" cy="2506.7" r="7.6"/>
<circle cx="2460.2" cy="2502.0" r="7.6"/>
<circle cx="2464.3" cy="2507.7" r="7.6"/>
<circle cx="2468.3" cy="2508.2" r="7.6"/>
<circle cx="2472.4" cy="2511.9" r="7.6"/>
<circle cx="2476.5" cy="2509.2" r="7.6"/>
<circle cx="2480.6" cy="2514.6" r="7.6"/>
<circle cx="2484.6" cy="2512.9" r="7.6"/>
<circle cx="2488.7" cy="2522.0" r="7.6"/>
<circle cx="2492.8" cy="2514.9" r="7.6"/>
<circle cx="2496.8" cy="2514.9" r="7.6"/>
<circle cx="2500.9" cy="2518.8" r="7.6"/>
<circle cx="2505.0" cy="2521.6" r="7.6"/>
<circle cx="2509.0" cy="2528.9" r="7.6"/>
<circle cx="2513.1" cy="2529.2" r="7.6"/>
<circle cx="2517.2" cy="2528.3" r="7.6"/>
<circle cx="2521.2" cy="2524.8" r="7.6"/>
<circle cx="2525.3" cy="2532.4" r="7.6"/>
<circle cx="2529.4" cy="2530.1" r="7.6"/>
<circle cx="2533.4" cy="2529.3" r="7.6"/>
<circle cx="2537.5" cy="2526.3" r="7.6"/>
<circle cx="2541.6" cy="2539.4" r="7.6"/>
<circle cx="2545.7" cy="2537.8" r="7.6"/>
<circle cx="2549.7" cy="2542.4" r="7.6"/>
<circle cx="2553.8" cy="2541.1" r="7.6"/>
<circle cx="2557.9" cy="2538.2" r="7.6"/>
<circle cx="2561.9" cy="2542.5" r="7.6"/>
<circle cx="2566.0" cy="2543.1" r="7.6"/>
<circle cx="2570.1" cy="2545.3" r="7.6"/>
<circle cx="2574.1" cy="2547.5" r="7.6"/>
<circle cx="2578.2" cy="2543.3" r="7.6"/>
<circle cx="2582.3" cy="2538.1" r="7.6"/>
<circle cx="2586.3" cy="2549.2" r="7.6"/>
<circle cx="2590.4" cy="2544.6" r="7.6"/>
<circle cx="2594.5" cy="2542.9" r="7.6"/>
<circle cx="2598.5" cy="2548.6" r="7.6"/>
<circle cx="2602.6" cy="2551.7" r="7.6"/>
<circle cx="2606.7" cy="2551.2" r="7.6"/>
<circle cx="2610.8" cy="2556.4" r="7.6"/>
<circle cx="2614.8" cy="2549.2" r="7.6"/>
<circle cx="2618.9" cy="2548.4" r="7.6"/>
<circle cx="2623.0" cy="2549.2" r="7.6"/>
<circle cx="2627.0" cy="2564.3" r="7.6"/>
<circle cx="2631.1" cy="2555.0" r="7.6"/>
<circle cx="2635.2" cy="2555.5" r="7.6"/>
<circle cx="2639.2" cy="2553.0" r="7.6"/>
<circle cx="2643.3" cy="2553.6" r="7.6"/>
<circle cx="2647.4" cy="2554.3" r="7.6"/>
<circle cx="2651.4" cy="2558.7" r="7.6"/>
<circle cx="2655.5" cy="2562.3" r="7.6"/>
<circle cx="2659.6" cy="2556.4" r="7.6"/>
<circle cx="2663.6" cy="2556.1" r="7.6"/>
<circle cx="2667.7" cy="2559.5" r="7.6"/>
<circle cx="2671.8" cy="2568.3" r="7.6"/>
<circle cx="2675.9" cy="2567.7" r="7.6"/>
<circle cx="2679.9" cy="2560.0" r="7.6"/>
<circle cx="2684.0" cy="2551.5" r="7.6"/>
<circle cx="2688.1" cy="2565.1" r="7.6"/>
<circle cx="2692.1" cy="2561.3" r="7.6"/>
<circle cx="2696.2" cy="2572.0" r="7.6"/>
<circle cx="2700.3" cy="2569.4" r="7.6"/>
<circle cx="2704.3" cy="2566.8" r="7.6"/>
<circle cx="2708.4" cy="2574.0" r="7.6"/>
<circle cx="2712.5" cy="2572.8" r="7.6"/>
<circle cx="2716.5" cy="2568.3" r="7.6"/>
<circle cx="2720.6" cy="2566.8" r="7.6"/>
<circle cx="2724.7" cy="2564.0" r="7.6"/>
<circle cx="2728.7" cy="2572.4" r="7.6"/>
<circle cx="2732.8" cy="2571.9" r="7.6"/>
<circle cx="2736.9" cy="2565.7" r="7.6"/>
<circle cx="2740.9" cy="2576.5" r="7.6"/>
<circle cx="2745.0" cy="2569.5" r="7.6"/>
<circle cx="2749.1" cy="2567.5" r="7.6"/>
<circle cx="2753.2" cy="2568.8" r="7.6"/>
<circle cx="2757.2" cy="2573.1" r="7.6"/>
<circle cx="2761.3" cy="2576.0" r="7.6"/>
<circle cx="2765.4" cy="2572.8" r="7.6"/>
<circle cx="2769.4" cy="2579.0" r="7.6"/>
<circle cx="2773.5" cy="2575.6" r="7.6"/>
<circle cx="2777.6" cy="2572.6" r="7.6"/>
<circle cx="2781.6" cy="2576.8" r="7.6"/>
<circle cx="2785.7" cy="2577.5" r="7.6"/>
<circle cx="2789.8" cy="2581.6" r="7.6"/>
<circle cx="2793.8" cy="2578.9" r="7.6"/>
<circle cx="2797.9" cy="2576.6" r="7.6"/>
<circle cx="2802.0" cy="2582.2" r="7.6"/>
<circle cx="2806.0" cy="2573.9" r="7.6"/>
<circle cx="2810.1" cy="2569.8" r="7.6"/>
<circle cx="2814.2" cy="2578.6" r="7.6"/>
<circle cx="2818.3" cy="2578.1" r="7.6"/>
<circle cx="2822.3" cy="2581.2" r="7.6"/>
<circle cx="2826.4" cy="2579.5" r="7.6"/>
<circle cx="2830.5" cy="2579.5" r="7.6"/>
<circle cx="2834.5" cy="2586.6" r="7.6"/>
<circle cx="2838.6" cy="2586.5" r="7.6"/>
<circle cx="2842.7" cy="2579.6" r="7.6"/>
<circle cx="2846.7" cy="2584.5" r="7.6"/>
<circle cx="2850.8" cy="2577.8" r="7.6"/>
<circle cx="2854.9" cy="2579.3" r="7.6"/>
<circle cx="2858.9" cy="2583.3" r="7.6"/>
<circle cx="2863.0" cy="2582.3" r="7.6"/>
<circle cx="2867.1" cy="2584.8" r="7.6"/>
<circle cx="2871.1" cy="2581.0" r="7.6"/>
<circle cx="2875.2" cy="2583.9" r="7.6"/>
<circle cx="2879.3" cy="2586.3" r="7.6"/>
<circle cx="2883.4" cy="2585.0" r="7.6"/>
<circle cx="2887.4" cy="2577.8" r="7.6"/>
<circle cx="2891.5" cy="2567.3" r="7.6"/>
<circle cx="2895.6" cy="2581.5" r="7.6"/>
<circle cx="2899.6" cy="2583.8" r="7.6"/>
<circle cx="2903.7" cy="2566.6" r="7.6"/>
<circle cx="2907.8" cy="2587.3" r="7.6"/>
<circle cx="2911.8" cy="2587.6" r="7.6"/>
<circle cx="2915.9" cy="2583.7" r="7.6"/>
<circle cx="2920.0" cy="2573.4" r="7.6"/>
<circle cx="2924.0" cy="2583.1" r="7.6"/>
<circle cx="2928.1" cy="2589.9" r="7.6"/>
<circle cx="2932.2" cy="2586.6" r="7.6"/>
<circle cx="2936.2" cy="2587.7" r="7.6"/>
<circle cx="2940.3" cy="2587.1" r="7.6"/>
<circle cx="2944.4" cy="2594.4" r="7.6"/>
<circle cx="2948.5" cy="2587.5" r="7.6"/>
<circle cx="2952.5" cy="2588.0" r="7.6"/>
<circle cx="2956.6" cy="2588.6" r="7.6"/>
<circle cx="2960.7" cy="2587.8" r="7.6"/>
<circle cx="2964.7" cy="2591.6" r="7.6"/>
<circle cx="2968.8" cy="2581.9" r="7.6"/>
<circle cx="2972.9" cy="2582.6" r="7.6"/>
<circle cx="2976.9" cy="2586.1" r="7.6"/>
<circle cx="2981.0" cy="2584.9" r="7.6"/>
</g>
<g fill="#66bb66">
<circle cx="1760.4" cy="2163.2" r="7.6"/>
<circle cx="1764.5" cy="2159.9" r="7.6"/>
<circle cx="1768.5" cy="2165.8" r="7.6"/>
<circle cx="1772.6" cy="2175.4" r="7.6"/>
<circle cx="1776.7" cy="2183.9" r="7.6"/>
<circle cx="1780.7" cy="2189.0" r="7.6"/>
<circle cx="1784.8" cy="2189.5" r="7.6"/>
<circle cx="1788.9" cy="2201.7" r="7.6"/>
<circle cx="1792.9" cy="2201.5" r="7.6"/>
<circle cx="1797.0" cy="2215.4" r="7.6"/>
<circle cx="1801.1" cy="2215.2" r="7.6"/>
<circle cx="1805.2" cy="2223.0" r="7.6"/>
<circle cx="1809.2" cy="2229.9" r="7.6"/>
<circle cx="1813.3" cy="2232.1" r="7.6"/>
<circle cx="1817.4" cy="2234.8" r="7.6"/>
<circle cx="1821.4" cy="2246.0" r="7.6"/>
<circle cx="1825.5" cy="2245.2" r="7.6"/>
<circle cx="1829.6" cy="2257.5" r="7.6"/>
<circle cx="1833.6" cy="2267.9" r="7.6"/>
<circle cx="1837.7" cy="2269.1" r="7.6"/>
<circle cx="1841.8" cy="2274.5" r="7.6"/>
<circle cx="1845.8" cy="2279.2" r="7.6"/>
<circle cx="1849.9" cy="2284.3" r="7.6"/>
<circle cx="1854.0" cy="2287.5" r="7.6"/>
<circle cx="1858.0" cy="2292.9" r="7.6"/>
<circle cx="1862.1" cy="2293.0" r="7.6"/>
<circle cx="1866.2" cy="2305.7" r="7.6"/>
<circle cx="1870.3" cy="2307.3" r="7.6"/>
<circle cx="1874.3" cy="2314.3" r="7.6"/>
<circle cx="1878.4" cy="2315.3" r="7.6"/>
<circle cx="1882.5" cy="2321.6" r="7.6"/>
<circle cx="1886.5" cy="2326.7" r="7.6"/>
<circle cx="1890.6" cy="2334.0" r="7.6"/>
<circle cx="1894.7" cy="2337.8" r="7.6"/>
<circle cx="1898.7" cy="2342.9" r="7.6"/>
<circle cx="1902.8" cy="2346.0" r="7.6"/>
<circle cx="1906.9" cy="2349.6" r="7.6"/>
<circle cx="1910.9" cy="2353.8" r="7.6"/>
<circle cx="1915.0" cy="2359.8" r="7.6"/>
<circle cx="1919.1" cy="2364.8" r="7.6"/>
<circle cx="1923.1" cy="2366.6" r="7.6"/>
<circle cx="1927.2" cy="2370.6" r="7.6"/>
<circle cx="1931.3" cy="2382.5" r="7.6"/>
<circle cx="1935.4" cy="2380.9" r="7.6"/>
<circle cx="1939.4" cy="2387.0" r="7.6"/>
<circle cx="1943.5" cy="2389.9" r="7.6"/>
<circle cx="1947.6" cy="2394.2" r="7.6"/>
<circle cx="1951.6" cy="2396.4" r="7.6"/>
<circle cx="1955.7" cy="2400.3" r="7.6"/>
<circle cx="1959.8" cy="2407.6" r="7.6"/>
<circle cx="1963.8" cy="2403.6" r="7.6"/>
<circle cx="1967.9" cy="2412.5" r="7.6"/>
<circle cx="1972.0" cy="2412.9" r="7.6"/>
<circle cx="1976.0" cy="2417.3" r="7.6"/>
<circle cx="1980.1" cy="2420.0" r="7.6"/>
<circle cx="1984.2" cy="2422.3" r="7.6"/>
<circle cx="1988.2" cy="2426.2" r="7.6"/>
<circle cx="1992.3" cy="2426.6" r="7.6"/>
<circle cx="1996.4" cy="2438.9" r="7.6"/>
<circle cx="2000.5" cy="2437.4" r="7.6"/>
<circle cx="2004.5" cy="2442.2" r="7.6"/>
<circle cx="2008.6" cy="2442.0" r="7.6"/>
<circle cx="2012.7" cy="2446.1" r="7.6"/>
<circle cx="2016.7" cy="2450.1" r="7.6"/>
<circle cx="2020.8" cy="2450.6" r="7.6"/>
<circle cx="2024.9" cy="2456.9" r="7.6"/>
<circle cx="2028.9" cy="2457.5" r="7.6"/>
<circle cx="2033.0" cy="2460.4" r="7.6"/>
<circle cx="2037.1" cy="2462.5" r="7.6"/>
<circle cx="2041.1" cy="2464.7" r="7.6"/>
<circle cx="2045.2" cy="2471.9" r="7.6"/>
<circle cx="2049.3" cy="2469.1" r="7.6"/>
<circle cx="2053.3" cy="2479.2" r="7.6"/>
<circle cx="2057.4" cy="2474.4" r="7.6"/>
<circle cx="2061.5" cy="2470.1" r="7.6"/>
<circle cx="2065.6" cy="2482.9" r="7.6"/>
<circle cx="2069.6" cy="2477.1" r="7.6"/>
<circle cx="2073.7" cy="2477.4" r="7.6"/>
<circle cx="2077.8" cy="2487.4" r="7.6"/>
<circle cx="2081.8" cy="2488.5" r="7.6"/>
<circle cx="2085.9" cy="2493.5" r="7.6"/>
<circle cx="2090.0" cy="2494.7" r="7.6"/>
<circle cx="2094.0" cy="2499.2" r="7.6"/>
<circle cx="2098.1" cy="2497.3" r="7.6"/>
<circle cx="2102.2" cy="2495.0" r="7.6"/>
<circle cx="2106.2" cy="2497.5" r="7.6"/>
<circle cx="2110.3" cy="2506.2" r="7.6"/>
<circle cx="2114.4" cy="2504.4" r="7.6"/>
<circle cx="2118.4" cy="2499.7" r="7.6"/>
<circle cx="2122.5" cy="2504.4" r="7.6"/>
<circle cx="2126.6" cy="2516.6" r="7.6"/>
<circle cx="2130.6" cy="2511.3" r="7.6"/>
<circle cx="2134.7" cy="2514.3" r="7.6"/>
<circle cx="2138.8" cy="2514.0" r="7.6"/>
<circle cx="2142.9" cy="2513.4" r="7.6"/>
<circle cx="2146.9" cy="2514.9" r="7.6"/>
<circle cx="2151.0" cy="2516.7" r="7.6"/>
<circle cx="2155.1" cy="2520.3" r="7.6"/>
<circle cx="2159.1" cy="2521.3" r="7.6"/>
<circle cx="2163.2" cy="2521.5" r="7.6"/>
<circle cx="2167.3" cy="2524.3" r="7.6"/>
<circle cx="2171.3" cy="2526.9" r="7.6"/>
<circle cx="2175.4" cy="2530.3" r="7.6"/>
<circle cx="2179.5" cy="2527.4" r="7.6"/>
<circle cx="2183.5" cy="2529.7" r="7.6"/>
<circle cx="2187.6" cy="2530.1" r="7.6"/>
<circle cx="2191.7" cy="2533.3" r="7.6"/>
<circle cx="2195.7" cy="2536.0" r="7.6"/>
<circle cx="2199.8" cy="2535.8" r="7.6"/>
<circle cx="2203.9" cy="2536.9" r="7.6"/>
<circle cx="2208.0" cy="2533.0" r="7.6"/>
<circle cx="2212.0" cy="2542.3" r="7.6"/>
<circle cx="2216.1" cy="2547.7" r="7.6"/>
<circle cx="2220.2" cy="2537.7" r="7.6"/>
<circle cx="2224.2" cy="2546.8" r="7.6"/>
<circle cx="2228.3" cy="2545.0" r="7.6"/>
<circle cx="2232.4" cy="2538.0" r="7.6"/>
<circle cx="2236.4" cy="2544.4" r="7.6"/>
<circle cx="2240.5" cy="2545.4" r="7.6"/>
<circle cx="2244.6" cy="2548.4" r="7.6"/>
<circle cx="2248.6" cy="2550.9" r="7.6"/>
<circle cx="2252.7" cy="2549.8" r="7.6"/>
<circle cx="2256.8" cy="2551.0" r="7.6"/>
<circle cx="2260.8" cy="2552.5" r="7.6"/>
<circle cx="2264.9" cy="2554.7" r="7.6"/>
<circle cx="2269.0" cy="2552.2" r="7.6"/>
<circle cx="2273.1" cy="2553.8" r="7.6"/>
<circle cx="2277.1" cy="2551.0" r="7.6"/>
<circle cx="2281.2" cy="2554.4" r="7.6"/>
<circle cx="2285.3" cy="2555.5" r="7.6"/>
<circle cx="2289.3" cy="2554.5" r="7.6"/>
<circle cx="2293.4" cy="2560.5" r="7.6"/>
<circle cx="2297.5" cy="2558.0" r="7.6"/>
<circle cx="2301.5" cy="2554.4" r="7.6"/>
<circle cx="2305.6" cy="2563.2" r="7.6"/>
<circle cx="2309.7" cy="2562.5" r="7.6"/>
<circle cx="2313.7" cy="2558.9" r="7.6"/>
<circle cx="2317.8" cy="2557.4" r="7.6"/>
<circle cx="2321.9" cy="2565.5" r="7.6"/>
<circle cx="2325.9" cy="2556.4" r="7.6"/>
<circle cx="2330.0" cy="2564.6" r="7.6"/>
<circle cx="2334.1" cy="2565.9" r="7.6"/>
<circle cx="2338.2" cy="2564.7" r="7.6"/>
<circle cx="2342.2" cy="2564.4" r="7.6"/>
<circle cx="2346.3" cy="2566.6" r="7.6"/>
<circle cx="2350.4" cy="2568.4" r="7.6"/>
<circle cx="2354.4" cy="2567.1" r="7.6"/>
<circle cx="2358.5" cy="2570.2" r="7.6"/>
<circle cx="2362.6" cy="2568.4" r="7.6"/>
<circle cx="2366.6" cy="2565.0" r="7.6"/>
<circle cx="2370.7" cy="2569.3" r="7.6"/>
<circle cx="2374.8" cy="2573.8" r="7.6"/>
<circle cx="2378.8" cy="2568.5" r="7.6"/>
<circle cx="2382.9" cy="2571.8" r="7.6"/>
<circle cx="2387.0" cy="2569.7" r="7.6"/>
<circle cx="2391.0" cy="2573.2" r="7.6"/>
<circle cx="2395.1" cy="2571.0" r="7.6"/>
<circle cx="2399.2" cy="2570.2" r="7.6"/>
<circle cx="2403.2" cy="2573.2" r="7.6"/>
<circle cx="2407.3" cy="2567.0" r="7.6"/>
<circle cx="2411.4" cy="2568.0" r="7.6"/>
<circle cx="2415.5" cy="2580.5" r="7.6"/>
<circle cx="2419.5" cy="2576.6" r="7.6"/>
<circle cx="2423.6" cy="2571.5" r="7.6"/>
<circle cx="2427.7" cy="2574.7" r="7.6"/>
<circle cx="2431.7" cy="2573.6" r="7.6"/>
<circle cx="2435.8" cy="2575.1" r="7.6"/>
<circle cx="2439.9" cy="2576.5" r="7.6"/>
<circle cx="2443.9" cy="2577.7" r="7.6"/>
<circle cx="2448.0" cy="2578.3" r="7.6"/>
<circle cx="2452.1" cy="2583.3" r="7.6"/>
<circle cx="2456.1" cy="2579.9" r="7.6"/>
<circle cx="2460.2" cy="2581.9" r="7.6"/>
<circle cx="2464.3" cy="2577.9" r="7.6"/>
<circle cx="2468.3" cy="2580.0" r="7.6"/>
<circle cx="2472.4" cy="2584.0" r="7.6"/>
<circle cx="2476.5" cy="2581.1" r="7.6"/>
<circle cx="2480.6" cy="2575.0" r="7.6"/>
<circle cx="2484.6" cy="2576.9" r="7.6"/>
<circle cx="2488.7" cy="2582.5" r="7.6"/>
<circle cx="2492.8" cy="2580.6" r="7.6"/>
<circle cx="2496.8" cy="2580.8" r="7.6"/>
<circle cx="2500.9" cy="2576.0" r="7.6"/>
<circle cx="2505.0" cy="2574.1" r="7.6"/>
<circle cx="2509.0" cy="2582.6" r="7.6"/>
<circle cx="2513.1" cy="2584.2" r="7.6"/>
<circle cx="2517.2" cy="2575.6" r="7.6"/>
<circle cx="2521.2" cy="2583.0" r="7.6"/>
<circle cx="2525.3" cy="2581.3" r="7.6"/>
<circle cx="2529.4" cy="2584.1" r="7.6"/>
<circle cx="2533.4" cy="2582.0" r="7.6"/>
<circle cx="2537.5" cy="2584.5" r="7.6"/>
<circle cx="2541.6" cy="2586.4" r="7.6"/>
<circle cx="2545.7" cy="2586.2" r="7.6"/>
<circle cx="2549.7" cy="2584.9" r="7.6"/>
<circle cx="2553.8" cy="2581.8" r="7.6"/>
<circle cx="2557.9" cy="2578.7" r="7.6"/>
<circle cx="2561.9" cy="2588.0" r="7.6"/>
<circle cx="2566.0" cy="2587.8" r="7.6"/>
<circle cx="2570.1" cy="2588.3" r="7.6"/>
<circle cx="2574.1" cy="2582.7" r="7.6"/>
<circle cx="2578.2" cy="2593.8" r="7.6"/>
<circle cx="2582.3" cy="2592.1" r="7.6"/>
<circle cx="2586.3" cy="2586.9" r="7.6"/>
<circle cx="2590.4" cy="2583.9" r="7.6"/>
<circle cx="2594.5" cy="2583.0" r="7.6"/>
<circle cx="2598.5" cy="2590.9" r="7.6"/>
<circle cx="2602.6" cy="2586.8" r="7.6"/>
<circle cx="2606.7" cy="2585.9" r="7.6"/>
<circle cx="2610.8" cy="2581.1" r="7.6"/>
<circle cx="2614.8" cy="2580.1" r="7.6"/>
<circle cx="2618.9" cy="2583.0" r="7.6"/>
<circle cx="2623.0" cy="2587.7" r="7.6"/>
<circle cx="2627.0" cy="2584.1" r="7.6"/>
<circle cx="2631.1" cy="2589.4" r="7.6"/>
<circle cx="2635.2" cy="2585.3" r="7.6"/>
<circle cx="2639.2" cy="2592.8" r="7.6"/>
<circle cx="2643.3" cy="2590.6" r="7.6"/>
<circle cx="2647.4" cy="2590.2" r="7.6"/>
<circle cx="2651.4" cy="2586.6" r="7.6"/>
<circle cx="2655.5" cy="2587.4" r="7.6"/>
<circle cx="2659.6" cy="2593.8" r="7.6"/>
<circle cx="2663.6" cy="2594.6" r="7.6"/>
<circle cx="2667.7" cy="2592.8" r="7.6"/>
<circle cx="2671.8" cy="2591.7" r="7.6"/>
<circle cx="2675.9" cy="2579.1" r="7.6"/>
<circle cx="2679.9" cy="2590.8" r="7.6"/>
<circle cx="2684.0" cy="2586.6" r="7.6"/>
<circle cx="2688.1" cy="2593.3" r="7.6"/>
<circle cx="2692.1" cy="2589.3" r="7.6"/>
<circle cx="2696.2" cy="2579.9" r="7.6"/>
<circle cx="2700.3" cy="2578.7" r="7.6"/>
<circle cx="2704.3" cy="2583.8" r="7.6"/>
<circle cx="2708.4" cy="2591.7" r="7.6"/>
<circle cx="2712.5" cy="2589.4" r="7.6"/>
<circle cx="2716.5" cy="2585.3" r="7.6"/>
<circle cx="2720.6" cy="2590.0" r="7.6"/>
<circle cx="2724.7" cy="2579.3" r="7.6"/>
<circle cx="2728.7" cy="2593.0" r="7.6"/>
<circle cx="2732.8" cy="2590.4" r="7.6"/>
<circle cx="2736.9" cy="2590.2" r="7.6"/>
<circle cx="2740.9" cy="2585.2" r="7.6"/>
<circle cx="2745.0" cy="2591.9" r="7.6"/>
<circle cx="2749.1" cy="2586.6" r="7.6"/>
<circle cx="2753.2" cy="2592.3" r="7.6"/>
<circle cx="2757.2" cy="2588.7" r="7.6"/>
<circle cx="2761.3" cy="2584.8" r="7.6"/>
<circle cx="2765.4" cy="2587.6" r="7.6"/>
<circle cx="2769.4" cy="2589.9" r="7.6"/>
<circle cx="2773.5" cy="2590.7" r="7.6"/>
<circle cx="2777.6" cy="2596.1" r="7.6"/>
<circle cx="2781.6" cy="2591.7" r="7.6"/>
<circle cx="2785.7" cy="2591.0" r="7.6"/>
<circle cx="2789.8" cy="2591.1" r="7.6"/>
<circle cx="2793.8" cy="2583.3" r="7.6"/>
<circle cx="2797.9" cy="2593.8" r="7.6"/>
<circle cx="2802.0" cy="2589.5" r="7.6"/>
<circle cx="2806.0" cy="2588.1" r="7.6"/>
<circle cx="2810.1" cy="2587.8" r="7.6"/>
<circle cx="2814.2" cy="2585.3" r="7.6"/>
<circle cx="2818.3" cy="2593.1" r="7.6"/>
<circle cx="2822.3" cy="2586.8" r="7.6"/>
<circle cx="2826.4" cy="2594.0" r="7.6"/>
<circle cx="2830.5" cy="2593.1" r="7.6"/>
<circle cx="2834.5" cy="2596.7" r="7.6"/>
<circle cx="2838.6" cy="2592.5" r="7.6"/>
<circle cx="2842.7" cy="2592.7" r="7.6"/>
<circle cx="2846.7" cy="2586.9" r="7.6"/>
<circle cx="2850.8" cy="2593.8" r="7.6"/>
<circle cx="2854.9" cy="2588.6" r="7.6"/>
<circle cx="2858.9" cy="2588.3" r="7.6"/>
<circle cx="2863.0" cy="2589.5" r="7.6"/>
<circle cx="2867.1" cy="2590.6" r="7.6"/>
<circle cx="2871.1" cy="2593.4" r="7.6"/>
<circle cx="2875.2" cy="2591.6" r="7.6"/>
<circle cx="2879.3" cy="2594.0" r="7.6"/>
<circle cx="2883.4" cy="2591.9" r="7.6"/>
<circle cx="2887.4" cy="2599.2" r="7.6"/>
<circle cx="2891.5" cy="2594.0" r="7.6"/>
<circle cx="2895.6" cy="2594.8" r="7.6"/>
<circle cx="2899.6" cy="2588.2" r="7.6"/>
<circle cx="2903.7" cy="2597.5" r="7.6"/>
<circle cx="2907.8" cy="2596.1" r="7.6"/>
<circle cx="2911.8" cy="2592.1" r="7.6"/>
<circle cx="2915.9" cy="2593.1" r="7.6"/>
<circle cx="2920.0" cy="2592.0" r="7.6"/>
<circle cx="2924.0" cy="2589.5" r="7.6"/>
<circle cx="2928.1" cy="2585.9" r="7.6"/>
<circle cx="2932.2" cy="2585.2" r="7.6"/>
<circle cx="2936.2" cy="2587.2" r="7.6"/>
<circle cx="2940.3" cy="2595.3" r="7.6"/>
<circle cx="2944.4" cy="2590.5" r="7.6"/>
<circle cx="2948.5" cy="2592.3" r="7.6"/>
<circle cx="2952.5" cy="2588.1" r="7.6"/>
<circle cx="2956.6" cy="2591.0" r="7.6"/>
<circle cx="2960.7" cy="2593.3" r="7.6"/>
<circle cx="2964.7" cy="2593.0" r="7.6"/>
<circle cx="2968.8" cy="2593.7" r="7.6"/>
<circle cx="2972.9" cy="2590.9" r="7.6"/>
<circle cx="2976.9" cy="2594.5" r="7.6"/>
<circle cx="2981.0" cy="2590.7" r="7.6"/>
</g>
<path d="M1760.4 1620.7L1764.5 1626.7L1768.5 1632.8L1772.6 1638.9L1776.7 1645.2L1780.7 1651.4L1784.8 1657.8L1788.9 1664.2L1792.9 1670.6L1797.0 1677.1L1801.1 1683.7L1805.2 1690.3L1809.2 1697.0L1813.3 1703.7L1817.4 1710.4L1821.4 1717.2L1825.5 1724.1L1829.6 1730.9L1833.6 1737.8L1837.7 1744.8L1841.8 1751.7L1845.8 1758.7L1849.9 1765.8L1854.0 1772.8L1858.0 1779.9L1862.1 1787.0L1866.2 1794.1L1870.3 1801.3L1874.3 1808.4L1878.4 1815.6L1882.5 1822.8L1886.5 1830.0L1890.6 1837.2L1894.7 1844.4L1898.7 1851.6L1902.8 1858.9L1906.9 1866.1L1910.9 1873.3L1915.0 1880.5L1919.1 1887.8L1923.1 1895.0L1927.2 1902.2L1931.3 1909.4L1935.4 1916.6L1939.4 1923.8L1943.5 1931.0L1947.6 1938.1L1951.6 1945.3L1955.7 1952.4L1959.8 1959.5L1963.8 1966.6L1967.9 1973.7L1972.0 1980.7L1976.0 1987.8L1980.1 1994.8L1984.2 2001.7L1988.2 2008.7L1992.3 2015.6L1996.4 2022.5L2000.5 2029.4L2004.5 2036.2L2008.6 2043.0L2012.7 2049.8L2016.7 2056.5L2020.8 2063.2L2024.9 2069.8L2028.9 2076.5L2033.0 2083.0L2037.1 2089.6L2041.1 2096.1L2045.2 2102.6L2049.3 2109.0L2053.3 2115.4L2057.4 2121.7L2061.5 2128.0L2065.6 2134.2L2069.6 2140.4L2073.7 2146.6L2077.8 2152.7L2081.8 2158.8L2085.9 2164.8L2090.0 2170.7L2094.0 2176.7L2098.1 2182.5L2102.2 2188.4L2106.2 2194.1L2110.3 2199.8L2114.4 2205.5L2118.4 2211.1L2122.5 2216.7L2126.6 2222.2L2130.6 2227.7L2134.7 2233.1L2138.8 2238.5L2142.9 2243.8L2146.9 2249.0L2151.0 2254.2L2155.1 2259.4L2159.1 2264.5L2163.2 2269.5L2167.3 2274.5L2171.3 2279.4L2175.4 2284.3L2179.5 2289.1L2183.5 2293.9L2187.6 2298.6L2191.7 2303.3L2195.7 2307.9L2199.8 2312.5L2203.9 2317.0L2208.0 2321.4L2212.0 2325.9L2216.1 2330.2L2220.2 2334.5L2224.2 2338.7L2228.3 2342.9L2232.4 2347.1L2236.4 2351.2L2240.5 2355.2L2244.6 2359.2L2248.6 2363.1L2252.7 2367.0L2256.8 2370.8L2260.8 2374.6L2264.9 2378.3L2269.0 2382.0L2273.1 2385.6L2277.1 2389.2L2281.2 2392.7L2285.3 2396.2L2289.3 2399.6L2293.4 2403.0L2297.5 2406.4L2301.5 2409.7L2305.6 2412.9L2309.7 2416.1L2313.7 2419.2L2317.8 2422.3L2321.9 2425.4L2325.9 2428.4L2330.0 2431.4L2334.1 2434.3L2338.2 2437.2L2342.2 2440.0L2346.3 2442.8L2350.4 2445.5L2354.4 2448.2L2358.5 2450.9L2362.6 2453.5L2366.6 2456.1L2370.7 2458.6L2374.8 2461.1L2378.8 2463.6L2382.9 2466.0L2387.0 2468.4L2391.0 2470.7L2395.1 2473.0L2399.2 2475.3L2403.2 2477.5L2407.3 2479.7L2411.4 2481.9L2415.5 2484.0L2419.5 2486.1L2423.6 2488.1L2427.7 2490.1L2431.7 2492.1L2435.8 2494.1L2439.9 2496.0L2443.9 2497.8L2448.0 2499.7L2452.1 2501.5L2456.1 2503.3L2460.2 2505.0L2464.3 2506.8L2468.3 2508.4L2472.4 2510.1L2476.5 2511.7L2480.6 2513.3L2484.6 2514.9L2488.7 2516.5L2492.8 2518.0L2496.8 2519.5L2500.9 2520.9L2505.0 2522.4L2509.0 2523.8L2513.1 2525.1L2517.2 2526.5L2521.2 2527.8L2525.3 2529.1L2529.4 2530.4L2533.4 2531.7L2537.5 2532.9L2541.6 2534.1L2545.7 2535.3L2549.7 2536.5L2553.8 2537.6L2557.9 2538.8L2561.9 2539.9L2566.0 2540.9L2570.1 2542.0L2574.1 2543.0L2578.2 2544.1L2582.3 2545.1L2586.3 2546.0L2590.4 2547.0L2594.5 2547.9L2598.5 2548.9L2602.6 2549.8L2606.7 2550.7L2610.8 2551.5L2614.8 2552.4L2618.9 2553.2L2623.0 2554.0L2627.0 2554.9L2631.1 2555.6L2635.2 2556.4L2639.2 2557.2L2643.3 2557.9L2647.4 2558.6L2651.4 2559.4L2655.5 2560.1L2659.6 2560.7L2663.6 2561.4L2667.7 2562.1L2671.8 2562.7L2675.9 2563.3L2679.9 2564.0L2684.0 2564.6L2688.1 2565.2L2692.1 2565.7L2696.2 2566.3L2700.3 2566.9L2704.3 2567.4L2708.4 2567.9L2712.5 2568.5L2716.5 2569.0L2720.6 2569.5L2724.7 2570.0L2728.7 2570.4L2732.8 2570.9L2736.9 2571.4L2740.9 2571.8L2745.0 2572.3L2749.1 2572.7L2753.2 2573.1L2757.2 2573.5L2761.3 2574.0L2765.4 2574.4L2769.4 2574.7L2773.5 2575.1L2777.6 2575.5L2781.6 2575.9L2785.7 2576.2L2789.8 2576.6L2793.8 2576.9L2797.9 2577.3L2802.0 2577.6L2806.0 2577.9L2810.1 2578.2L2814.2 2578.5L2818.3 2578.8L2822.3 2579.1L2826.4 2579.4L2830.5 2579.7L2834.5 2580.0L2838.6 2580.2L2842.7 2580.5L2846.7 2580.8L2850.8 2581.0L2854.9 2581.3L2858.9 2581.5L2863.0 2581.8L2867.1 2582.0L2871.1 2582.2L2875.2 2582.4L2879.3 2582.7L2883.4 2582.9L2887.4 2583.1L2891.5 2583.3L2895.6 2583.5L2899.6 2583.7L2903.7 2583.9L2907.8 2584.1L2911.8 2584.2L2915.9 2584.4L2920.0 2584.6L2924.0 2584.8L2928.1 2584.9L2932.2 2585.1L2936.2 2585.3L2940.3 2585.4L2944.4 2585.6L2948.5 2585.7L2952.5 2585.9L2956.6 2586.0L2960.7 2586.2L2964.7 2586.3L2968.8 2586.4L2972.9 2586.6L2976.9 2586.7L2981.0 2586.8L2981.0 2593.1L2976.9 2593.1L2972.9 2593.1L2968.8 2593.0L2964.7 2593.0L2960.7 2593.0L2956.6 2593.0L2952.5 2593.0L2948.5 2592.9L2944.4 2592.9L2940.3 2592.9L2936.2 2592.9L2932.2 2592.8L2928.1 2592.8L2924.0 2592.8L2920.0 2592.8L2915.9 2592.7L2911.8 2592.7L2907.8 2592.7L2903.7 2592.6L2899.6 2592.6L2895.6 2592.6L2891.5 2592.6L2887.4 2592.5L2883.4 2592.5L2879.3 2592.4L2875.2 2592.4L2871.1 2592.4L2867.1 2592.3L2863.0 2592.3L2858.9 2592.3L2854.9 2592.2L2850.8 2592.2L2846.7 2592.1L2842.7 2592.1L2838.6 2592.0L2834.5 2592.0L2830.5 2592.0L2826.4 2591.9L2822.3 2591.9L2818.3 2591.8L2814.2 2591.8L2810.1 2591.7L2806.0 2591.7L2802.0 2591.6L2797.9 2591.5L2793.8 2591.5L2789.8 2591.4L2785.7 2591.4L2781.6 2591.3L2777.6 2591.2L2773.5 2591.2L2769.4 2591.1L2765.4 2591.0L2761.3 2591.0L2757.2 2590.9L2753.2 2590.8L2749.1 2590.8L2745.0 2590.7L2740.9 2590.6L2736.9 2590.5L2732.8 2590.5L2728.7 2590.4L2724.7 2590.3L2720.6 2590.2L2716.5 2590.1L2712.5 2590.0L2708.4 2589.9L2704.3 2589.9L2700.3 2589.8L2696.2 2589.7L2692.1 2589.6L2688.1 2589.5L2684.0 2589.4L2679.9 2589.3L2675.9 2589.1L2671.8 2589.0L2667.7 2588.9L2663.6 2588.8L2659.6 2588.7L2655.5 2588.6L2651.4 2588.5L2647.4 2588.3L2643.3 2588.2L2639.2 2588.1L2635.2 2587.9L2631.1 2587.8L2627.0 2587.7L2623.0 2587.5L2618.9 2587.4L2614.8 2587.2L2610.8 2587.1L2606.7 2586.9L2602.6 2586.8L2598.5 2586.6L2594.5 2586.5L2590.4 2586.3L2586.3 2586.1L2582.3 2586.0L2578.2 2585.8L2574.1 2585.6L2570.1 2585.4L2566.0 2585.2L2561.9 2585.1L2557.9 2584.9L2553.8 2584.7L2549.7 2584.5L2545.7 2584.3L2541.6 2584.0L2537.5 2583.8L2533.4 2583.6L2529.4 2583.4L2525.3 2583.2L2521.2 2582.9L2517.2 2582.7L2513.1 2582.4L2509.0 2582.2L2505.0 2581.9L2500.9 2581.7L2496.8 2581.4L2492.8 2581.1L2488.7 2580.9L2484.6 2580.6L2480.6 2580.3L2476.5 2580.0L2472.4 2579.7L2468.3 2579.4L2464.3 2579.1L2460.2 2578.8L2456.1 2578.5L2452.1 2578.1L2448.0 2577.8L2443.9 2577.4L2439.9 2577.1L2435.8 2576.7L2431.7 2576.4L2427.7 2576.0L2423.6 2575.6L2419.5 2575.2L2415.5 2574.8L2411.4 2574.4L2407.3 2574.0L2403.2 2573.6L2399.2 2573.1L2395.1 2572.7L2391.0 2572.2L2387.0 2571.8L2382.9 2571.3L2378.8 2570.8L2374.8 2570.3L2370.7 2569.8L2366.6 2569.3L2362.6 2568.8L2358.5 2568.3L2354.4 2567.7L2350.4 2567.2L2346.3 2566.6L2342.2 2566.0L2338.2 2565.4L2334.1 2564.8L2330.0 2564.2L2325.9 2563.6L2321.9 2562.9L2317.8 2562.3L2313.7 2561.6L2309.7 2560.9L2305.6 2560.2L2301.5 2559.5L2297.5 2558.8L2293.4 2558.0L2289.3 2557.3L2285.3 2556.5L2281.2 2555.7L2277.1 2554.9L2273.1 2554.1L2269.0 2553.2L2264.9 2552.4L2260.8 2551.5L2256.8 2550.6L2252.7 2549.7L2248.6 2548.8L2244.6 2547.8L2240.5 2546.8L2236.4 2545.8L2232.4 2544.8L2228.3 2543.8L2224.2 2542.7L2220.2 2541.6L2216.1 2540.5L2212.0 2539.4L2208.0 2538.3L2203.9 2537.1L2199.8 2535.9L2195.7 2534.7L2191.7 2533.4L2187.6 2532.2L2183.5 2530.9L2179.5 2529.6L2175.4 2528.2L2171.3 2526.8L2167.3 2525.4L2163.2 2524.0L2159.1 2522.5L2155.1 2521.0L2151.0 2519.5L2146.9 2518.0L2142.9 2516.4L2138.8 2514.8L2134.7 2513.1L2130.6 2511.4L2126.6 2509.7L2122.5 2508.0L2118.4 2506.2L2114.4 2504.4L2110.3 2502.5L2106.2 2500.6L2102.2 2498.7L2098.1 2496.7L2094.0 2494.7L2090.0 2492.7L2085.9 2490.6L2081.8 2488.5L2077.8 2486.3L2073.7 2484.1L2069.6 2481.9L2065.6 2479.6L2061.5 2477.3L2057.4 2474.9L2053.3 2472.5L2049.3 2470.0L2045.2 2467.5L2041.1 2464.9L2037.1 2462.3L2033.0 2459.7L2028.9 2457.0L2024.9 2454.3L2020.8 2451.5L2016.7 2448.6L2012.7 2445.7L2008.6 2442.8L2004.5 2439.8L2000.5 2436.7L1996.4 2433.6L1992.3 2430.5L1988.2 2427.3L1984.2 2424.0L1980.1 2420.7L1976.0 2417.3L1972.0 2413.9L1967.9 2410.4L1963.8 2406.9L1959.8 2403.3L1955.7 2399.6L1951.6 2395.9L1947.6 2392.1L1943.5 2388.3L1939.4 2384.4L1935.4 2380.4L1931.3 2376.4L1927.2 2372.4L1923.1 2368.2L1919.1 2364.1L1915.0 2359.8L1910.9 2355.5L1906.9 2351.1L1902.8 2346.7L1898.7 2342.2L1894.7 2337.7L1890.6 2333.1L1886.5 2328.4L1882.5 2323.7L1878.4 2318.9L1874.3 2314.0L1870.3 2309.1L1866.2 2304.1L1862.1 2299.1L1858.0 2294.0L1854.0 2288.9L1849.9 2283.7L1845.8 2278.4L1841.8 2273.1L1837.7 2267.8L1833.6 2262.4L1829.6 2256.9L1825.5 2251.4L1821.4 2245.8L1817.4 2240.2L1813.3 2234.5L1809.2 2228.8L1805.2 2223.0L1801.1 2217.2L1797.0 2211.3L1792.9 2205.4L1788.9 2199.5L1784.8 2193.5L1780.7 2187.5L1776.7 2181.5L1772.6 2175.4L1768.5 2169.3L1764.5 2163.1L1760.4 2157.0Z" fill="#ff0000" fill-opacity="0.3"/>
<path d="M1760.4 1620.7L1764.5 1626.7L1768.5 1632.8L1772.6 1638.9L1776.7 1645.2L1780.7 1651.4L1784.8 1657.8L1788.9 1664.2L1792.9 1670.6L1797.0 1677.1L1801.1 1683.7L1805.2 1690.3L1809.2 1697.0L1813.3 1703.7L1817.4 1710.4L1821.4 1717.2L1825.5 1724.1L1829.6 1730.9L1833.6 1737.8L1837.7 1744.8L1841.8 1751.7L1845.8 1758.7L1849.9 1765.8L1854.0 1772.8L1858.0 1779.9L1862.1 1787.0L1866.2 1794.1L1870.3 1801.3L1874.3 1808.4L1878.4 1815.6L1882.5 1822.8L1886.5 1830.0L1890.6 1837.2L1894.7 1844.4L1898.7 1851.6L1902.8 1858.9L1906.9 1866.1L1910.9 1873.3L1915.0 1880.5L1919.1 1887.8L1923.1 1895.0L1927.2 1902.2L1931.3 1909.4L1935.4 1916.6L1939.4 1923.8L1943.5 1931.0L1947.6 1938.1L1951.6 1945.3L1955.7 1952.4L1959.8 1959.5L1963.8 1966.6L1967.9 1973.7L1972.0 1980.7L1976.0 1987.8L1980.1 1994.8L1984.2 2001.7L1988.2 2008.7L1992.3 2015.6L1996.4 2022.5L2000.5 2029.4L2004.5 2036.2L2008.6 2043.0L2012.7 2049.8L2016.7 2056.5L2020.8 2063.2L2024.9 2069.8L2028.9 2076.5L2033.0 2083.0L2037.1 2089.6L2041.1 2096.1L2045.2 2102.6L2049.3 2109.0L2053.3 2115.4L2057.4 2121.7L2061.5 2128.0L2065.6 2134.2L2069.6 2140.4L2073.7 2146.6L2077.8 2152.7L2081.8 2158.8L2085.9 2164.8L2090.0 2170.7L2094.0 2176.7L2098.1 2182.5L2102.2 2188.4L2106.2 2194.1L2110.3 2199.8L2114.4 2205.5L2118.4 2211.1L2122.5 2216.7L2126.6 2222.2L2130.6 2227.7L2134.7 2233.1L2138.8 2238.5L2142.9 2243.8L2146.9 2249.0L2151.0 2254.2L2155.1 2259.4L2159.1 2264.5L2163.2 2269.5L2167.3 2274.5L2171.3 2279.4L2175.4 2284.3L2179.5 2289.1L2183.5 2293.9L2187.6 2298.6L2191.7 2303.3L2195.7 2307.9L2199.8 2312.5L2203.9 2317.0L2208.0 2321.4L2212.0 2325.9L2216.1 2330.2L2220.2 2334.5L2224.2 2338.7L2228.3 2342.9L2232.4 2347.1L2236.4 2351.2L2240.5 2355.2L2244.6 2359.2L2248.6 2363.1L2252.7 2367.0L2256.8 2370.8L2260.8 2374.6L2264.9 2378.3L2269.0 2382.0L2273.1 2385.6L2277.1 2389.2L2281.2 2392.7L2285.3 2396.2L2289.3 2399.6L2293.4 2403.0L2297.5 2406.4L2301.5 2409.7L2305.6 2412.9L2309.7 2416.1L2313.7 2419.2L2317.8 2422.3L2321.9 2425.4L2325.9 2428.4L2330.0 2431.4L2334.1 2434.3L2338.2 2437.2L2342.2 2440.0L2346.3 2442.8L2350.4 2445.5L2354.4 2448.2L2358.5 2450.9L2362.6 2453.5L2366.6 2456.1L2370.7 2458.6L2374.8 2461.1L2378.8 2463.6L2382.9 2466.0L2387.0 2468.4L2391.0 2470.7L2395.1 2473.0L2399.2 2475.3L2403.2 2477.5L2407.3 2479.7L2411.4 2481.9L2415.5 2484.0L2419.5 2486.1L2423.6 2488.1L2427.7 2490.1L2431.7 2492.1L2435.8 2494.1L2439.9 2496.0L2443.9 2497.8L2448.0 2499.7L2452.1 2501.5L2456.1 2503.3L2460.2 2505.0L2464.3 2506.8L2468.3 2508.4L2472.4 2510.1L2476.5 2511.7L2480.6 2513.3L2484.6 2514.9L2488.7 2516.5L2492.8 2518.0L2496.8 2519.5L2500.9 2520.9L2505.0 2522.4L2509.0 2523.8L2513.1 2525.1L2517.2 2526.5L2521.2 2527.8L2525.3 2529.1L2529.4 2530.4L2533.4 2531.7L2537.5 2532.9L2541.6 2534.1L2545.7 2535.3L2549.7 2536.5L2553.8 2537.6L2557.9 2538.8L2561.9 2539.9L2566.0 2540.9L2570.1 2542.0L2574.1 2543.0L2578.2 2544.1L2582.3 2545.1L2586.3 2546.0L2590.4 2547.0L2594.5 2547.9L2598.5 2548.9L2602.6 2549.8L2606.7 2550.7L2610.8 2551.5L2614.8 2552.4L2618.9 2553.2L2623.0 2554.0L2627.0 2554.9L2631.1 2555.6L2635.2 2556.4L2639.2 2557.2L2643.3 2557.9L2647.4 2558.6L2651.4 2559.4L2655.5 2560.1L2659.6 2560.7L2663.6 2561.4L2667.7 2562.1L2671.8 2562.7L2675.9 2563.3L2679.9 2564.0L2684.0 2564.6L2688.1 2565.2L2692.1 2565.7L2696.2 2566.3L2700.3 2566.9L2704.3 2567.4L2708.4 2567.9L2712.5 2568.5L2716.5 2569.0L2720.6 2569.5L2724.7 2570.0L2728.7 2570.4L2732.8 2570.9L2736.9 2571.4L2740.9 2571.8L2745.0 2572.3L2749.1 2572.7L2753.2 2573.1L2757.2 2573.5L2761.3 2574.0L2765.4 2574.4L2769.4 2574.7L2773.5 2575.1L2777.6 2575.5L2781.6 2575.9L2785.7 2576.2L2789.8 2576.6L2793.8 2576.9L2797.9 2577.3L2802.0 2577.6L2806.0 2577.9L2810.1 2578.2L2814.2 2578.5L2818.3 2578.8L2822.3 2579.1L2826.4 2579.4L2830.5 2579.7L2834.5 2580.0L2838.6 2580.2L2842.7 2580.5L2846.7 2580.8L2850.8 2581.0L2854.9 2581.3L2858.9 2581.5L2863.0 2581.8L2867.1 2582.0L2871.1 2582.2L2875.2 2582.4L2879.3 2582.7L2883.4 2582.9L2887.4 2583.1L2891.5 2583.3L2895.6 2583.5L2899.6 2583.7L2903.7 2583.9L2907.8 2584.1L2911.8 2584.2L2915.9 2584.4L2920.0 2584.6L2924.0 2584.8L2928.1 2584.9L2932.2 2585.1L2936.2 2585.3L2940.3 2585.4L2944.4 2585.6L2948.5 2585.7L2952.5 2585.9L2956.6 2586.0L2960.7 2586.2L2964.7 2586.3L2968.8 2586.4L2972.9 2586.6L2976.9 2586.7L2981.0 2586.8" fill="none" stroke="#5a0000" stroke-width="5.0"/>
<path d="M1760.4 1620.7L1764.5 1626.7L1768.5 1632.8L1772.6 1638.9L1776.7 1645.2L1780.7 1651.4L1784.8 1657.8L1788.9 1664.2L1792.9 1670.6L1797.0 1677.1L1801.1 1683.7L1805.2 1690.3L1809.2 1697.0L1813.3 1703.7L1817.4 1710.4L1821.4 1717.2L1825.5 1724.1L1829.6 1730.9L1833.6 1737.8L1837.7 1744.8L1841.8 1751.7L1845.8 1758.7L1849.9 1765.8L1854.0 1772.8L1858.0 1779.9L1862.1 1787.0L1866.2 1794.1L1870.3 1801.3L1874.3 1808.4L1878.4 1815.6L1882.5 1822.8L1886.5 1830.0L1890.6 1837.2L1894.7 1844.4L1898.7 1851.6L1902.8 1858.9L1906.9 1866.1L1910.9 1873.3L1915.0 1880.5L1919.1 1887.8L1923.1 1895.0L1927.2 1902.2L1931.3 1909.4L1935.4 1916.6L1939.4 1923.8L1943.5 1931.0L1947.6 1938.1L1951.6 1945.3L1955.7 1952.4L1959.8 1959.5L1963.8 1966.6L1967.9 1973.7L1972.0 1980.7L1976.0 1987.8L1980.1 1994.8L1984.2 2001.7L1988.2 2008.7L1992.3 2015.6L1996.4 2022.5L2000.5 2029.4L2004.5 2036.2L2008.6 2043.0L2012.7 2049.8L2016.7 2056.5L2020.8 2063.2L2024.9 2069.8L2028.9 2076.5L2033.0 2083.0L2037.1 2089.6L2041.1 2096.1L2045.2 2102.6L2049.3 2109.0L2053.3 2115.4L2057.4 2121.7L2061.5 2128.0L2065.6 2134.2L2069.6 2140.4L2073.7 2146.6L2077.8 2152.7L2081.8 2158.8L2085.9 2164.8L2090.0 2170.7L2094.0 2176.7L2098.1 2182.5L2102.2 2188.4L2106.2 2194.1L2110.3 2199.8L2114.4 2205.5L2118.4 2211.1L2122.5 2216.7L2126.6 2222.2L2130.6 2227.7L2134.7 2233.1L2138.8 2238.5L2142.9 2243.8L2146.9 2249.0L2151.0 2254.2L2155.1 2259.4L2159.1 2264.5L2163.2 2269.5L2167.3 2274.5L2171.3 2279.4L2175.4 2284.3L2179.5 2289.1L2183.5 2293.9L2187.6 2298.6L2191.7 2303.3L2195.7 2307.9L2199.8 2312.5L2203.9 2317.0L2208.0 2321.4L2212.0 2325.9L2216.1 2330.2L2220.2 2334.5L2224.2 2338.7L2228.3 2342.9L2232.4 2347.1L2236.4 2351.2L2240.5 2355.2L2244.6 2359.2L2248.6 2363.1L2252.7 2367.0L2256.8 2370.8L2260.8 2374.6L2264.9 2378.3L2269.0 2382.0L2273.1 2385.6L2277.1 2389.2L2281.2 2392.7L2285.3 2396.2L2289.3 2399.6L2293.4 2403.0L2297.5 2406.4L2301.5 2409.7L2305.6 2412.9L2309.7 2416.1L2313.7 2419.2L2317.8 2422.3L2321.9 2425.4L2325.9 2428.4L2330.0 2431.4L2334.1 2434.3L2338.2 2437.2L2342.2 2440.0L2346.3 2442.8L2350.4 2445.5L2354.4 2448.2L2358.5 2450.9L2362.6 2453.5L2366.6 2456.1L2370.7 2458.6L2374.8 2461.1L2378.8 2463.6L2382.9 2466.0L2387.0 2468.4L2391.0 2470.7L2395.1 2473.0L2399.2 2475.3L2403.2 2477.5L2407.3 2479.7L2411.4 2481.9L2415.5 2484.0L2419.5 2486.1L2423.6 2488.1L2427.7 2490.1L2431.7 2492.1L2435.8 2494.1L2439.9 2496.0L2443.9 2497.8L2448.0 2499.7L2452.1 2501.5L2456.1 2503.3L2460.2 2505.0L2464.3 2506.8L2468.3 2508.4L2472.4 2510.1L2476.5 2511.7L2480.6 2513.3L2484.6 2514.9L2488.7 2516.5L2492.8 2518.0L2496.8 2519.5L2500.9 2520.9L2505.0 2522.4L2509.0 2523.8L2513.1 2525.1L2517.2 2526.5L2521.2 2527.8L2525.3 2529.1L2529.4 2530.4L2533.4 2531.7L2537.5 2532.9L2541.6 2534.1L2545.7 2535.3L2549.7 2536.5L2553.8 2537.6L2557.9 2538.8L2561.9 2539.9L2566.0 2540.9L2570.1 2542.0L2574.1 2543.0L2578.2 2544.1L2582.3 2545.1L2586.3 2546.0L2590.4 2547.0L2594.5 2547.9L2598.5 2548.9L2602.6 2549.8L2606.7 2550.7L2610.8 2551.5L2614.8 2552.4L2618.9 2553.2L2623.0 2554.0L2627.0 2554.9L2631.1 2555.6L2635.2 2556.4L2639.2 2557.2L2643.3 2557.9L2647.4 2558.6L2651.4 2559.4L2655.5 2560.1L2659.6 2560.7L2663.6 2561.4L2667.7 2562.1L2671.8 2562.7L2675.9 2563.3L2679.9 2564.0L2684.0 2564.6L2688.1 2565.2L2692.1 2565.7L2696.2 2566.3L2700.3 2566.9L2704.3 2567.4L2708.4 2567.9L2712.5 2568.5L2716.5 2569.0L2720.6 2569.5L2724.7 2570.0L2728.7 2570.4L2732.8 2570.9L2736.9 2571.4L2740.9 2571.8L2745.0 2572.3L2749.1 2572.7L2753.2 2573.1L2757.2 2573.5L2761.3 2574.0L2765.4 2574.4L2769.4 2574.7L2773.5 2575.1L2777.6 2575.5L2781.6 2575.9L2785.7 2576.2L2789.8 2576.6L2793.8 2576.9L2797.9 2577.3L2802.0 2577.6L2806.0 2577.9L2810.1 2578.2L2814.2 2578.5L2818.3 2578.8L2822.3 2579.1L2826.4 2579.4L2830.5 2579.7L2834.5 2580.0L2838.6 2580.2L2842.7 2580.5L2846.7 2580.8L2850.8 2581.0L2854.9 2581.3L2858.9 2581.5L2863.0 2581.8L2867.1 2582.0L2871.1 2582.2L2875.2 2582.4L2879.3 2582.7L2883.4 2582.9L2887.4 2583.1L2891.5 2583.3L2895.6 2583.5L2899.6 2583.7L2903.7 2583.9L2907.8 2584.1L2911.8 2584.2L2915.9 2584.4L2920.0 2584.6L2924.0 2584.8L2928.1 2584.9L2932.2 2585.1L2936.2 2585.3L2940.3 2585.4L2944.4 2585.6L2948.5 2585.7L2952.5 2585.9L2956.6 2586.0L2960.7 2586.2L2964.7 2586.3L2968.8 2586.4L2972.9 2586.6L2976.9 2586.7L2981.0 2586.8" fill="none" stroke="#000" stroke-width="3.1"/>
<path d="M1760.4 2157.0L1764.5 2163.1L1768.5 2169.3L1772.6 2175.4L1776.7 2181.5L1780.7 2187.5L1784.8 2193.5L1788.9 2199.5L1792.9 2205.4L1797.0 2211.3L1801.1 2217.2L1805.2 2223.0L1809.2 2228.8L1813.3 2234.5L1817.4 2240.2L1821.4 2245.8L1825.5 2251.4L1829.6 2256.9L1833.6 2262.4L1837.7 2267.8L1841.8 2273.1L1845.8 2278.4L1849.9 2283.7L1854.0 2288.9L1858.0 2294.0L1862.1 2299.1L1866.2 2304.1L1870.3 2309.1L1874.3 2314.0L1878.4 2318.9L1882.5 2323.7L1886.5 2328.4L1890.6 2333.1L1894.7 2337.7L1898.7 2342.2L1902.8 2346.7L1906.9 2351.1L1910.9 2355.5L1915.0 2359.8L1919.1 2364.1L1923.1 2368.2L1927.2 2372.4L1931.3 2376.4L1935.4 2380.4L1939.4 2384.4L1943.5 2388.3L1947.6 2392.1L1951.6 2395.9L1955.7 2399.6L1959.8 2403.3L1963.8 2406.9L1967.9 2410.4L1972.0 2413.9L1976.0 2417.3L1980.1 2420.7L1984.2 2424.0L1988.2 2427.3L1992.3 2430.5L1996.4 2433.6L2000.5 2436.7L2004.5 2439.8L2008.6 2442.8L2012.7 2445.7L2016.7 2448.6L2020.8 2451.5L2024.9 2454.3L2028.9 2457.0L2033.0 2459.7L2037.1 2462.3L2041.1 2464.9L2045.2 2467.5L2049.3 2470.0L2053.3 2472.5L2057.4 2474.9L2061.5 2477.3L2065.6 2479.6L2069.6 2481.9L2073.7 2484.1L2077.8 2486.3L2081.8 2488.5L2085.9 2490.6L2090.0 2492.7L2094.0 2494.7L2098.1 2496.7L2102.2 2498.7L2106.2 2500.6L2110.3 2502.5L2114.4 2504.4L2118.4 2506.2L2122.5 2508.0L2126.6 2509.7L2130.6 2511.4L2134.7 2513.1L2138.8 2514.8L2142.9 2516.4L2146.9 2518.0L2151.0 2519.5L2155.1 2521.0L2159.1 2522.5L2163.2 2524.0L2167.3 2525.4L2171.3 2526.8L2175.4 2528.2L2179.5 2529.6L2183.5 2530.9L2187.6 2532.2L2191.7 2533.4L2195.7 2534.7L2199.8 2535.9L2203.9 2537.1L2208.0 2538.3L2212.0 2539.4L2216.1 2540.5L2220.2 2541.6L2224.2 2542.7L2228.3 2543.8L2232.4 2544.8L2236.4 2545.8L2240.5 2546.8L2244.6 2547.8L2248.6 2548.8L2252.7 2549.7L2256.8 2550.6L2260.8 2551.5L2264.9 2552.4L2269.0 2553.2L2273.1 2554.1L2277.1 2554.9L2281.2 2555.7L2285.3 2556.5L2289.3 2557.3L2293.4 2558.0L2297.5 2558.8L2301.5 2559.5L2305.6 2560.2L2309.7 2560.9L2313.7 2561.6L2317.8 2562.3L2321.9 2562.9L2325.9 2563.6L2330.0 2564.2L2334.1 2564.8L2338.2 2565.4L2342.2 2566.0L2346.3 2566.6L2350.4 2567.2L2354.4 2567.7L2358.5 2568.3L2362.6 2568.8L2366.6 2569.3L2370.7 2569.8L2374.8 2570.3L2378.8 2570.8L2382.9 2571.3L2387.0 2571.8L2391.0 2572.2L2395.1 2572.7L2399.2 2573.1L2403.2 2573.6L2407.3 2574.0L2411.4 2574.4L2415.5 2574.8L2419.5 2575.2L2423.6 2575.6L2427.7 2576.0L2431.7 2576.4L2435.8 2576.7L2439.9 2577.1L2443.9 2577.4L2448.0 2577.8L2452.1 2578.1L2456.1 2578.5L2460.2 2578.8L2464.3 2579.1L2468.3 2579.4L2472.4 2579.7L2476.5 2580.0L2480.6 2580.3L2484.6 2580.6L2488.7 2580.9L2492.8 2581.1L2496.8 2581.4L2500.9 2581.7L2505.0 2581.9L2509.0 2582.2L2513.1 2582.4L2517.2 2582.7L2521.2 2582.9L2525.3 2583.2L2529.4 2583.4L2533.4 2583.6L2537.5 2583.8L2541.6 2584.0L2545.7 2584.3L2549.7 2584.5L2553.8 2584.7L2557.9 2584.9L2561.9 2585.1L2566.0 2585.2L2570.1 2585.4L2574.1 2585.6L2578.2 2585.8L2582.3 2586.0L2586.3 2586.1L2590.4 2586.3L2594.5 2586.5L2598.5 2586.6L2602.6 2586.8L2606.7 2586.9L2610.8 2587.1L2614.8 2587.2L2618.9 2587.4L2623.0 2587.5L2627.0 2587.7L2631.1 2587.8L2635.2 2587.9L2639.2 2588.1L2643.3 2588.2L2647.4 2588.3L2651.4 2588.5L2655.5 2588.6L2659.6 2588.7L2663.6 2588.8L2667.7 2588.9L2671.8 2589.0L2675.9 2589.1L2679.9 2589.3L2684.0 2589.4L2688.1 2589.5L2692.1 2589.6L2696.2 2589.7L2700.3 2589.8L2704.3 2589.9L2708.4 2589.9L2712.5 2590.0L2716.5 2590.1L2720.6 2590.2L2724.7 2590.3L2728.7 2590.4L2732.8 2590.5L2736.9 2590.5L2740.9 2590.6L2745.0 2590.7L2749.1 2590.8L2753.2 2590.8L2757.2 2590.9L2761.3 2591.0L2765.4 2591.0L2769.4 2591.1L2773.5 2591.2L2777.6 2591.2L2781.6 2591.3L2785.7 2591.4L2789.8 2591.4L2793.8 2591.5L2797.9 2591.5L2802.0 2591.6L2806.0 2591.7L2810.1 2591.7L2814.2 2591.8L2818.3 2591.8L2822.3 2591.9L2826.4 2591.9L2830.5 2592.0L2834.5 2592.0L2838.6 2592.0L2842.7 2592.1L2846.7 2592.1L2850.8 2592.2L2854.9 2592.2L2858.9 2592.3L2863.0 2592.3L2867.1 2592.3L2871.1 2592.4L2875.2 2592.4L2879.3 2592.4L2883.4 2592.5L2887.4 2592.5L2891.5 2592.6L2895.6 2592.6L2899.6 2592.6L2903.7 2592.6L2907.8 2592.7L2911.8 2592.7L2915.9 2592.7L2920.0 2592.8L2924.0 2592.8L2928.1 2592.8L2932.2 2592.8L2936.2 2592.9L2940.3 2592.9L2944.4 2592.9L2948.5 2592.9L2952.5 2593.0L2956.6 2593.0L2960.7 2593.0L2964.7 2593.0L2968.8 2593.0L2972.9 2593.1L2976.9 2593.1L2981.0 2593.1" fill="none" stroke="#5a0000" stroke-width="5.0"/>
<path d="M1760.4 2157.0L1764.5 2163.1L1768.5 2169.3L1772.6 2175.4L1776.7 2181.5L1780.7 2187.5L1784.8 2193.5L1788.9 2199.5L1792.9 2205.4L1797.0 2211.3L1801.1 2217.2L1805.2 2223.0L1809.2 2228.8L1813.3 2234.5L1817.4 2240.2L1821.4 2245.8L1825.5 2251.4L1829.6 2256.9L1833.6 2262.4L1837.7 2267.8L1841.8 2273.1L1845.8 2278.4L1849.9 2283.7L1854.0 2288.9L1858.0 2294.0L1862.1 2299.1L1866.2 2304.1L1870.3 2309.1L1874.3 2314.0L1878.4 2318.9L1882.5 2323.7L1886.5 2328.4L1890.6 2333.1L1894.7 2337.7L1898.7 2342.2L1902.8 2346.7L1906.9 2351.1L1910.9 2355.5L1915.0 2359.8L1919.1 2364.1L1923.1 2368.2L1927.2 2372.4L1931.3 2376.4L1935.4 2380.4L1939.4 2384.4L1943.5 2388.3L1947.6 2392.1L1951.6 2395.9L1955.7 2399.6L1959.8 2403.3L1963.8 2406.9L1967.9 2410.4L1972.0 2413.9L1976.0 2417.3L1980.1 2420.7L1984.2 2424.0L1988.2 2427.3L1992.3 2430.5L1996.4 2433.6L2000.5 2436.7L2004.5 2439.8L2008.6 2442.8L2012.7 2445.7L2016.7 2448.6L2020.8 2451.5L2024.9 2454.3L2028.9 2457.0L2033.0 2459.7L2037.1 2462.3L2041.1 2464.9L2045.2 2467.5L2049.3 2470.0L2053.3 2472.5L2057.4 2474.9L2061.5 2477.3L2065.6 2479.6L2069.6 2481.9L2073.7 2484.1L2077.8 2486.3L2081.8 2488.5L2085.9 2490.6L2090.0 2492.7L2094.0 2494.7L2098.1 2496.7L2102.2 2498.7L2106.2 2500.6L2110.3 2502.5L2114.4 2504.4L2118.4 2506.2L2122.5 2508.0L2126.6 2509.7L2130.6 2511.4L2134.7 2513.1L2138.8 2514.8L2142.9 2516.4L2146.9 2518.0L2151.0 2519.5L2155.1 2521.0L2159.1 2522.5L2163.2 2524.0L2167.3 2525.4L2171.3 2526.8L2175.4 2528.2L2179.5 2529.6L2183.5 2530.9L2187.6 2532.2L2191.7 2533.4L2195.7 2534.7L2199.8 2535.9L2203.9 2537.1L2208.0 2538.3L2212.0 2539.4L2216.1 2540.5L2220.2 2541.6L2224.2 2542.7L2228.3 2543.8L2232.4 2544.8L2236.4 2545.8L2240.5 2546.8L2244.6 2547.8L2248.6 2548.8L2252.7 2549.7L2256.8 2550.6L2260.8 2551.5L2264.9 2552.4L2269.0 2553.2L2273.1 2554.1L2277.1 2554.9L2281.2 2555.7L2285.3 2556.5L2289.3 2557.3L2293.4 2558.0L2297.5 2558.8L2301.5 2559.5L2305.6 2560.2L2309.7 2560.9L2313.7 2561.6L2317.8 2562.3L2321.9 2562.9L2325.9 2563.6L2330.0 2564.2L2334.1 2564.8L2338.2 2565.4L2342.2 2566.0L2346.3 2566.6L2350.4 2567.2L2354.4 2567.7L2358.5 2568.3L2362.6 2568.8L2366.6 2569.3L2370.7 2569.8L2374.8 2570.3L2378.8 2570.8L2382.9 2571.3L2387.0 2571.8L2391.0 2572.2L2395.1 2572.7L2399.2 2573.1L2403.2 2573.6L2407.3 2574.0L2411.4 2574.4L2415.5 2574.8L2419.5 2575.2L2423.6 2575.6L2427.7 2576.0L2431.7 2576.4L2435.8 2576.7L2439.9 2577.1L2443.9 2577.4L2448.0 2577.8L2452.1 2578.1L2456.1 2578.5L2460.2 2578.8L2464.3 2579.1L2468.3 2579.4L2472.4 2579.7L2476.5 2580.0L2480.6 2580.3L2484.6 2580.6L2488.7 2580.9L2492.8 2581.1L2496.8 2581.4L2500.9 2581.7L2505.0 2581.9L2509.0 2582.2L2513.1 2582.4L2517.2 2582.7L2521.2 2582.9L2525.3 2583.2L2529.4 2583.4L2533.4 2583.6L2537.5 2583.8L2541.6 2584.0L2545.7 2584.3L2549.7 2584.5L2553.8 2584.7L2557.9 2584.9L2561.9 2585.1L2566.0 2585.2L2570.1 2585.4L2574.1 2585.6L2578.2 2585.8L2582.3 2586.0L2586.3 2586.1L2590.4 2586.3L2594.5 2586.5L2598.5 2586.6L2602.6 2586.8L2606.7 2586.9L2610.8 2587.1L2614.8 2587.2L2618.9 2587.4L2623.0 2587.5L2627.0 2587.7L2631.1 2587.8L2635.2 2587.9L2639.2 2588.1L2643.3 2588.2L2647.4 2588.3L2651.4 2588.5L2655.5 2588.6L2659.6 2588.7L2663.6 2588.8L2667.7 2588.9L2671.8 2589.0L2675.9 2589.1L2679.9 2589.3L2684.0 2589.4L2688.1 2589.5L2692.1 2589.6L2696.2 2589.7L2700.3 2589.8L2704.3 2589.9L2708.4 2589.9L2712.5 2590.0L2716.5 2590.1L2720.6 2590.2L2724.7 2590.3L2728.7 2590.4L2732.8 2590.5L2736.9 2590.5L2740.9 2590.6L2745.0 2590.7L2749.1 2590.8L2753.2 2590.8L2757.2 2590.9L2761.3 2591.0L2765.4 2591.0L2769.4 2591.1L2773.5 2591.2L2777.6 2591.2L2781.6 2591.3L2785.7 2591.4L2789.8 2591.4L2793.8 2591.5L2797.9 2591.5L2802.0 2591.6L2806.0 2591.7L2810.1 2591.7L2814.2 2591.8L2818.3 2591.8L2822.3 2591.9L2826.4 2591.9L2830.5 2592.0L2834.5 2592.0L2838.6 2592.0L2842.7 2592.1L2846.7 2592.1L2850.8 2592.2L2854.9 2592.2L2858.9 2592.3L2863.0 2592.3L2867.1 2592.3L2871.1 2592.4L2875.2 2592.4L2879.3 2592.4L2883.4 2592.5L2887.4 2592.5L2891.5 2592.6L2895.6 2592.6L2899.6 2592.6L2903.7 2592.6L2907.8 2592.7L2911.8 2592.7L2915.9 2592.7L2920.0 2592.8L2924.0 2592.8L2928.1 2592.8L2932.2 2592.8L2936.2 2592.9L2940.3 2592.9L2944.4 2592.9L2948.5 2592.9L2952.5 2593.0L2956.6 2593.0L2960.7 2593.0L2964.7 2593.0L2968.8 2593.0L2972.9 2593.1L2976.9 2593.1L2981.0 2593.1" fill="none" stroke="#000" stroke-width="3.1"/>
<text transform="matrix(0.7387 0 0 0.7881 1840.47 1676.53)" font-family='"Liberation Sans", sans-serif' font-size="100" font-weight="bold" fill="#000">C</text>
<path d="M1590.56 2086.54C1589.35 2085.25 1585.63 2081.21 1583.29 2078.79C1580.95 2076.37 1579.10 2074.43 1576.51 2072.01C1573.93 2069.59 1571.67 2067.25 1567.80 2064.26C1563.92 2061.28 1558.11 2056.95 1553.27 2054.09C1548.43 2051.23 1542.94 2048.78 1538.74 2047.12C1534.54 2045.46 1530.80 2044.33 1528.09 2044.12C1525.38 2043.91 1523.63 2044.89 1522.47 2045.86C1521.31 2046.83 1520.63 2048.44 1521.11 2049.93C1521.60 2051.41 1522.44 2052.67 1525.38 2054.77C1528.31 2056.87 1533.28 2060.00 1538.74 2062.52C1544.20 2065.04 1551.65 2068.04 1558.11 2069.88C1564.57 2071.72 1572.64 2073.04 1577.48 2073.56C1582.32 2074.08 1584.26 2073.59 1587.17 2072.98C1590.07 2072.36 1592.85 2071.33 1594.92 2069.88C1596.98 2068.43 1598.76 2066.33 1599.56 2064.26C1600.37 2062.20 1600.34 2059.55 1599.76 2057.48C1599.18 2055.42 1597.45 2053.32 1596.08 2051.86C1594.71 2050.41 1592.28 2049.28 1591.53 2048.77" fill="none" stroke="#000" stroke-width="3.4" stroke-linecap="round" stroke-linejoin="round"/>
<path d="M1525.38 2054.77C1526.40 2055.59 1529.39 2058.12 1531.51 2059.68C1533.63 2061.24 1535.41 2062.62 1538.11 2064.12C1540.81 2065.62 1544.49 2067.33 1547.73 2068.68C1550.97 2070.03 1554.25 2071.31 1557.54 2072.22C1560.84 2073.12 1564.19 2073.71 1567.50 2074.11C1570.82 2074.51 1574.48 2074.73 1577.43 2074.62C1580.39 2074.51 1583.93 2073.66 1585.23 2073.46L1585.23 2073.46C1583.95 2073.37 1580.39 2073.31 1577.53 2072.88C1574.67 2072.45 1571.23 2071.64 1568.09 2070.87C1564.95 2070.11 1561.84 2069.28 1558.68 2068.31C1555.52 2067.35 1552.34 2066.20 1549.12 2065.07C1545.90 2063.93 1542.16 2062.65 1539.37 2061.50C1536.59 2060.35 1534.74 2059.31 1532.41 2058.19C1530.08 2057.07 1526.55 2055.34 1525.38 2054.77Z" fill="#000" stroke="#000" stroke-width="3.2" stroke-linejoin="round"/>
<text transform="matrix(0.7888 0 0 0.7099 2345.92 2751.29)" font-family='"Liberation Serif", serif' font-size="100" fill="#262626">β</text>
</g>
</g>
</svg></body></html>
